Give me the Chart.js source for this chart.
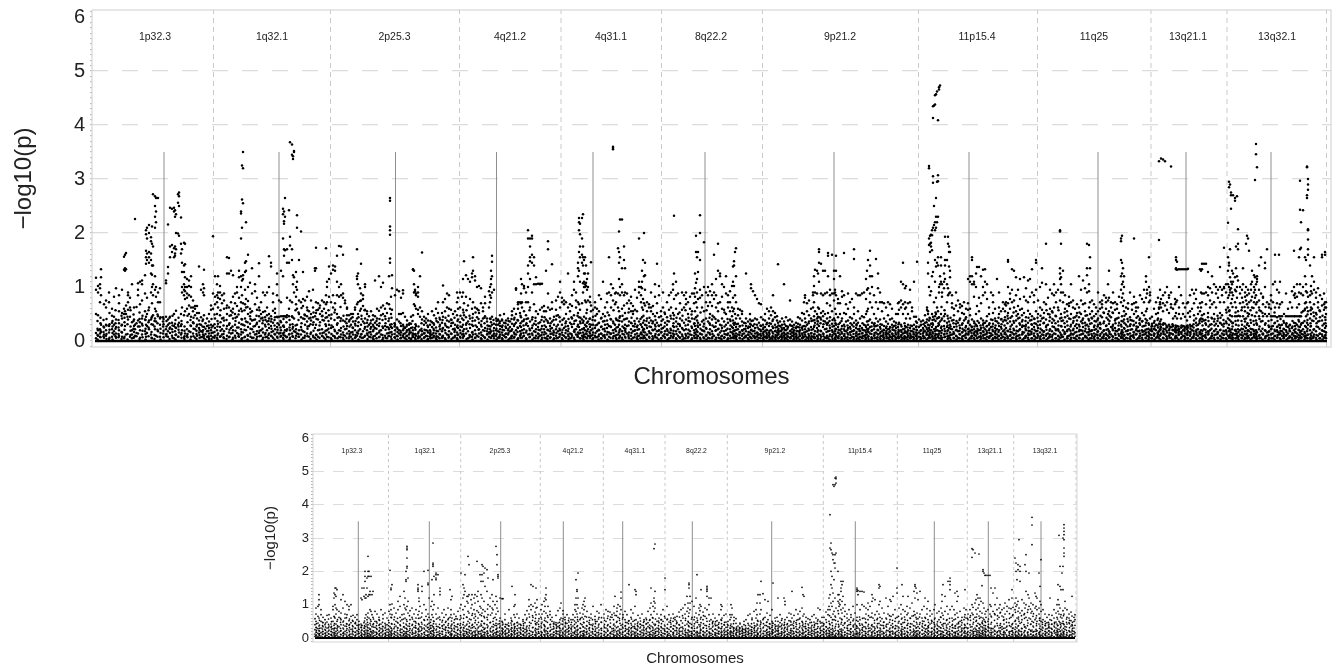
<!DOCTYPE html>
<html>
<head>
<meta charset="utf-8">
<title>Manhattan plots</title>
<script src="https://cdn.jsdelivr.net/npm/chart.js@4"></script>
<style>
  html, body { margin: 0; background: #fff; }
  canvas { position: absolute; left: 0; }
  #topChart { top: 0; }
  #bottomChart { top: 425px; }
</style>
</head>
<body>
<canvas id="topChart"></canvas>
<canvas id="bottomChart"></canvas>
<script>
const lociNames = ['1p32.3', '1q32.1', '2p25.3', '4q21.2', '4q31.1', '8q22.2', '9p21.2', '11p15.4', '11q25', '13q21.1', '13q32.1'];
const yTickLevels = [0, 1, 2, 3, 4, 5, 6];
const dashedLevels = [2, 3, 4, 5];
const geneTop = 3.5;

// positions along the concatenated regions, upper panel
const topBounds = [213.5, 330.5, 459.5, 561, 661.5, 762.5, 918.5, 1037.5, 1151, 1227, 1326.5];
const topGenes = [164, 279, 395.5, 496.5, 593, 705, 834, 969, 1098, 1186, 1271];
const topLabelAt = [155, 272, 394.5, 510, 611, 711, 840, 977, 1094, 1188, 1277];
const topBaseline = [95, 1327];

// each row: position, then the -log10(p) values seen at that position
const top1p = [
[96,.05,.15,.5,.95,1.17],[98,.1,.2,.48,.9,1.02],[100,.08,.14,.22,.72,.98,1.05],[101,.17,.3,.85,1.18,1.33],[104,.06,.12,.25,.68],[106,.1,.2,.3,.62,.75],[109,.04,.16,.28,.72,.9],[112,.08,.22,.34,.47,.6],[114,.12,.18,.3,.45,.82],[116,.06,.14,.26,.4,.98],[119,.1,.2,.33,.55,.7,.85],[122,.08,.16,.3,.42,.52,.95],[124,.05,.5,.6,1.32,1.56],[125,.28,.55,1.3,1.35,1.6],[126,.12,.5,.66,1.33,1.63],[128,.4,.58,.72,.85,.9],[130,.08,.45,.62,.8],[132,.05,.12,.2,.35,1.05],[134,.07,.17,.28,.4,.62],[135,.1,.22,.3,2.26],[138,.14,.27,.38,.85,.95,1.07],[140,.06,.2,.35,.68,1.1],[142,.12,.32,.42,.75,1.05,1.12],[145,.18,.4,.55,.88,1.22],
[146,.08,.3,.45,1.43,1.55,1.67,1.98,2.05],[147,.15,.28,.5,.8,1.5,1.62,1.9,2.1],[149,.22,.38,.62,1.45,1.55,1.65,2.0,2.15],[151,.12,.4,.9,1.25,1.5,1.62,1.85,1.92],[152,.05,.45,.7,1.0,1.23,1.4,1.8,2.12],[153,.3,.48,.85,1.05,1.4,1.75,2.72],[155,.22,.42,.6,.95,1.2,2.1,2.3,2.5,2.68],[156,.1,.36,.55,.82,1.0,2.2,2.4,2.65],[158,.18,.46,.72,.9,2.65],[160,.08,.3,.42,.72,.98],[163,.14,.27,.36,.44],[166,.12,.22,.45,1.12,1.07],[168,.08,.18,.3,.4,1.25,1.37,2.16],[170,.15,.25,.45,1.55,1.75,2.47],[172,.1,.22,.34,1.65,1.78,2.45],[174,.05,.28,.5,1.55,1.72,2.4,2.47],[175,.18,.32,1.58,1.62,1.75,2.3,2.42],[176,.12,.24,.56,1.7,2.0,2.35],[178,.08,.3,1.99,2.56,2.72],[179,.16,.34,1.95,2.5,2.68,2.75],[181,.12,.28,.5,1.8,1.62,2.29],[182,.2,.62,.9,1.0,1.28,1.45,1.7],[184,.06,.48,.85,.95,1.05,1.28,1.4,1.82],[185,.14,.55,.78,.92,1.0,1.18,1.42,1.8],[187,.1,.22,.6,.8,.88,1.0,1.15],[189,.18,.5,.66,.85,1.02,1.12],[191,.08,.28,.45,.62,.82,1.0,1.2],[193,.14,.35,.55,.62,.75],[195,.06,.22,.48,.6,.65],[197,.1,.3,.42,.52,.65],[199,.16,.24,.38,.52,1.38],[201,.07,.18,.3,.44,.95],[203,.12,.2,.4,.9,1.05],[204,.05,.1,.26,.48,.85,.98,1.32],[207,.08,.18,.28,.42],[209,.04,.14,.24,.36,.5],[211,.1,.2,.3,.58,.66],[213,.07,.16,.28,.6,.88,1.94]
];
const top1q = [
[215,.1,.24,.42,.68,.82,1.2],[217,.06,.2,.5,.72,.85,1.05],[218,.14,.32,.62,.8,.9,1.2],[220,.08,.26,.48,.78,.9,1.02],[222,.12,.22,.42,.7,.85],[224,.05,.18,.38,.6,.75,.88],[227,.1,.28,.5,.66,1.25,1.55],[229,.07,.16,.3,.62,1.25,1.54],[231,.14,.24,.48,.56,.72,1.3],[233,.06,.2,.42,.6,.82,1.22],[235,.1,.3,.5,.7,.88],[237,.15,.25,.45,.65,.9,1.0],[239,.08,.34,.56,.8,1.18,1.3],[241,.12,.22,.6,.72,1.0,1.2,1.9,2.36,2.4],[242,.05,.4,.55,.85,1.12,2.1,2.62,3.25],[243,.16,.3,.7,1.15,1.22,2.55,3.2,3.5],[245,.08,.42,.68,.95,1.28,1.45],[246,.2,.36,.62,.78,1.3,1.48,2.2],[248,.1,.26,.5,.74,1.0,1.6],[250,.14,.32,.46,.6,1.08],[252,.06,.22,.38,.55,.88,1.35],[255,.12,.28,.4,.68,.92,1.05],[257,.08,.18,.34,.58,.8],[259,.15,.26,.46,.62,1.2,1.44],[261,.1,.2,.42,.5,.72],[263,.06,.16,.38,.54,.9],[265,.12,.3,.44,.55,.85],[267,.08,.2,.36,.48,.62,.9],[269,.14,.24,.42,.5,1.0,1.57],[271,.1,.28,.36,.46,1.45,1.38],[273,.06,.18,.34,.56,.72,.88],[275,.12,.22,.44,.52,.6],[277,.08,.16,.26,.45,.85,1.05,1.25],[279,.14,.3,.45,.75],[281,.1,.2,.35,.46,.72,1.3],[283,.06,.14,.28,.46,1.2,1.9,2.35,2.45],[284,.16,.26,.46,1.58,1.7,2.17,2.22,2.4],[285,.1,.2,.46,1.68,2.3,2.65],[287,.08,.22,.48,.8,1.7,1.45],[289,.12,.46,.6,1.45,2.42],[290,.06,.2,.3,.75,1.77,1.93,3.68],[292,.14,.46,.72,1.5,1.7,3.64,3.45],[293,.08,.26,1.05,1.22,3.42,3.37],[294,.18,.42,.9,1.18,3.5,3.52],[296,.1,.22,.68,.82,1.0,1.28],[297,.14,.3,.6,.95,1.1,2.1,2.33],[299,.08,.2,.5,.75,1.5],[301,.12,.26,.44,.72,2.03],[303,.06,.18,.42,.65,.78,1.28],[305,.1,.3,.48,.75],[307,.14,.36,.46,.62,.82],[309,.08,.28,.42,.55,.92],[311,.16,.38,.5,.75],[313,.1,.3,.44,.62,.95],[315,.06,.24,.46,1.35,1.3],[316,.12,.3,.52,.72,1.35,1.73],[318,.08,.2,.4,.58,.7],[320,.14,.35,.5,.66],[322,.1,.22,.46,.55,.75],[324,.06,.16,.38,.6,.72],[326,.12,.28,.52,.68,1.72,.85],[327,.08,.2,.44,.72,1.0,1.1],[329,.16,.3,.48,.82,1.15,1.38],[331,.05,.24,.42,.72,1.25]
];
const top2p = [
[333,.1,.26,.62,.85,1.32,1.4],[335,.06,.18,.58,.7,1.3,1.38],[337,.14,.3,.5,.85,1.1,1.58],[339,.08,.2,.44,.82,1.0,1.76],[341,.12,.24,.42,.85,1.75,1.05],[343,.06,.16,.38,.8,.88,1.6],[345,.1,.22,.36,.7,.75],[347,.14,.28,.48,.62,.6],[349,.05,.18,.36,.48],[351,.08,.16,.3,.42,.5],[353,.12,.24,.36,.5],[355,.06,.2,.32,.58,.62],[357,.1,.16,.42,.68,1.15,1.2,1.7],[358,.14,.28,.5,.72,1.25,1.05],[360,.08,.22,.56,.74,.98],[361,.12,.3,.6,.75,.88,1.43],[363,.06,.18,.36,.65,.78,.85],[365,.1,.26,.42,.58,1.0,1.05],[367,.14,.2,.34,.5,.55],[369,.08,.16,.3,.46],[371,.12,.26,.38,.55],[373,.05,.18,.3,.4,.48],[375,.1,.24,.34,.46,1.12],[377,.14,.3,.42,.6],[379,.07,.16,.28,.56,1.2],[381,.12,.2,.48,.62,1.0],[383,.06,.24,.5,.66,1.08],[385,.1,.28,.46,.6],[387,.05,.14,.26,.52,.7],[389,.1,.22,.42,.68,1.2],[390,.16,.3,.6,1.45,1.53,1.97,2.05,2.12,2.6,2.65],[391,.08,.26,.5,.82],[392,.12,.24,.58,.98,1.22],[395,.06,.2,.3,.85],[397,.1,.25,.4,.95],[399,.14,.2,.36,.5,.92],[401,.06,.16,.28,.5,.8],[403,.1,.2,.3,.52,.94,.88],[405,.05,.14,.24,.45],[407,.1,.2,.3,.38],[409,.06,.12,.22,.3],[411,.04,.16,.24,.32,.45],[413,.08,.14,.2,.48,1.33,1.32],[414,.12,.68,.9,1.05,1.3],[415,.06,.24,.65,.95,.92],[416,.1,.28,.6,.85,.88],[418,.05,.14,.5,.58,.82,.9,1.0],[420,.08,.2,.45,.62,1.2],[422,.12,.18,.4,.55,1.64],[424,.06,.14,.3,.45],[426,.1,.2,.34,.42],[428,.04,.16,.26,.38,.5],[430,.08,.14,.2,.3],[432,.06,.12,.26,.35,.55],[434,.1,.2,.3,.48],[436,.05,.14,.25,.42,.6],[438,.08,.18,.35,.52,.72],[440,.12,.22,.3,.4],[442,.06,.18,.34,.52],[443,.1,.24,.45,.72,1.03],[445,.05,.2,.32,.55,.78],[447,.12,.26,.38,.62,.88],[449,.08,.18,.36,.6,.85],[451,.14,.28,.4,.58],[453,.06,.22,.34,.5],[455,.1,.2,.3,.55],[457,.05,.16,.26,.48,.72,.9],[458,.12,.24,.4,.6,.8]
];
const top4q21 = [
[460,.08,.2,.35,.62,.9],[462,.12,.26,.42,.82],[463,.06,.18,.3,.58,.9,1.15],[464,.1,.22,.48,.7,1.48],[466,.14,.3,.44,.82,1.22],[468,.05,.18,.36,.66,1.15],[470,.1,.24,.42,.78,1.1],[472,.08,.16,.3,.6,1.18,1.25],[473,.12,.28,.5,.72,1.3,1.55],[475,.06,.2,.38,.62,1.2,1.12],[477,.1,.26,.44,.6,1.0],[479,.14,.22,.34,.52,1.02],[481,.05,.16,.3,.7,.98],[483,.1,.2,.42,.55,.62],[485,.06,.24,.46,.82,.7],[487,.12,.18,.36,.42],[489,.08,.16,.28,.62,.92],[490,.14,.22,.42,.72,.85,1.0],[491,.06,.18,.35,.8,1.05,1.15,1.3],[492,.1,.3,.45,.9,1.2,1.47,1.58],[494,.05,.14,.24,.32,.95],[496,.1,.2,.3,.42],[498,.06,.18,.3,.38,.4],[500,.12,.22,.28,.36,.48],[502,.05,.16,.26,.38,.4],[504,.1,.2,.34,.5],[506,.07,.14,.24,.38],[508,.12,.2,.3,.42],[510,.05,.18,.26,.36],[512,.1,.22,.32,.48,.55],[514,.06,.16,.28,.4,.6],[516,.12,.2,.34,.5,.95,.98],[518,.05,.24,.38,.6,.68,.72],[520,.1,.18,.28,.52,.72],[521,.14,.26,.44,.7,.88,1.15],[522,.06,.2,.36,.62,.72,1.05],[524,.1,.22,.4,.55,.98,1.02],[526,.05,.16,.3,.48,.72,.9],[528,.12,.28,.42,.72,1.0,1.25,1.4,1.9,2.05],[530,.08,.2,.36,.62,1.15,1.48,1.55,1.75,1.9],[532,.14,.24,.4,.9,1.45,1.6,1.9,1.95],[534,.06,.18,.32,.68,1.05,1.4,1.55],[536,.1,.22,.3,.55,1.05,1.18],[538,.05,.14,.26,.5,1.06],[540,.1,.2,.35,.58,1.06,1.05],[542,.06,.16,.28,.45,.62,1.06],[544,.12,.22,.36,.55,.65],[546,.05,.14,.26,.4,.55,1.3],[548,.1,.2,.34,.62,.88,1.85,1.7],[550,.06,.18,.28,.42,.58],[552,.14,.24,.36,.6,.72,1.42],[554,.05,.16,.3,.45],[556,.1,.22,.4,.58,.75],[558,.06,.18,.3,.48,.82],[560,.12,.2,.36,.62,1.1,.9]
];
const top4q31 = [
[562,.05,.16,.3,.72,.8],[564,.1,.24,.42,.68,.75],[566,.06,.2,.36,.5,.72],[568,.12,.18,.28,.62,1.25],[570,.05,.14,.34,.55,.68],[572,.1,.26,.42,.65,.85],[574,.06,.18,.32,.48,.95,1.1],[576,.12,.22,.38,.62,.9,.75],[578,.08,.16,.3,.52,.72,1.2,1.35,1.45],[579,.14,.26,.44,.68,1.3,1.65,2.05,2.2,2.28],[580,.05,.2,.36,.58,1.1,1.55,1.75,1.98,2.17],[582,.1,.22,.4,.7,1.45,1.6,1.9,2.28],[583,.06,.16,.34,.9,1.07,1.4,1.55,1.75,2.35],[584,.12,.24,.45,1.0,1.1,1.25,1.5],[585,.08,.2,.3,.75,1.0,1.05,1.25,1.55],[586,.14,.28,.42,.72,1.02,1.08,1.4],[587,.05,.18,.34,.58,.95,1.15],[588,.1,.22,.36,.75,1.0,1.25],[590,.06,.14,.26,.42,.82,.72],[591,.1,.2,.3,.55,.66,1.46],[593,.05,.16,.3,.45,.58],[595,.1,.24,.38,.62,.72],[597,.07,.18,.3,.5,.6],[599,.12,.2,.34,.55,.85],[601,.05,.14,.26,.42,.78],[603,.1,.22,.36,.5,1.1],[605,.06,.18,.3,.46,.62],[607,.12,.24,.38,.72,.88],[609,.08,.16,.28,.48,.9,1.55],[611,.14,.26,.4,.62,.85,1.05],[613,.05,.2,.36,.75,.98,3.55,3.58,3.6],[615,.1,.22,.3,.68,.88],[616,.06,.18,.42,.72,.9],[618,.12,.26,.38,.62,.88,1.72],[619,.05,.16,.3,.55,1.15,1.45,1.65,2.03],[620,.1,.22,.46,.85,1.0,1.55,2.25],[622,.06,.18,.36,.6,.9,1.05,1.35,2.25],[624,.12,.24,.4,.66,.85,1.5,1.75],[625,.08,.2,.3,.52,.9,1.35],[627,.14,.28,.42,.7,.88],[629,.05,.16,.36,.6,.75],[631,.1,.22,.34,.55,.82,.7],[633,.06,.18,.28,.5,.65,.55],[635,.12,.2,.32,.58,.95],[637,.05,.14,.26,.42,.8,.55],[639,.1,.22,.36,.9,1.0,1.1,1.9],[641,.06,.16,.3,.72,.85,1.0],[642,.12,.26,.44,.62,.98,1.3,1.1],[643,.05,.2,.34,.58,.78,1.5],[644,.1,.22,.38,.7,1.2,2.0],[645,.06,.16,.3,.66,.95,1.45,1.22],[647,.12,.24,.42,.55,.72],[649,.08,.18,.34,.62,.68],[651,.14,.26,.38,.55,.62,.9],[653,.05,.2,.36,.5,.65],[655,.1,.22,.3,.46,1.05,.82],[657,.06,.18,.34,.52,.7,1.43],[659,.12,.2,.28,.44,.85,1.02],[661,.05,.16,.3,.46,.55]
];
const top8q = [
[663,.1,.24,.4,.62,.9],[665,.06,.18,.34,.5],[667,.12,.22,.3,.44,.72],[669,.05,.16,.36,.58,.85],[671,.1,.2,.42,.62,.9],[673,.06,.14,.28,.52,.95,1.05],[674,.12,.26,.48,.78,1.25,2.32],[676,.05,.18,.36,.6,.85,1.1],[678,.1,.22,.32,.5,.88],[680,.06,.16,.28,.42,.7],[682,.12,.24,.38,.58,.9],[684,.05,.2,.34,.62,.85],[686,.1,.22,.4,.68,.78,.9],[688,.06,.14,.3,.5,.72],[690,.12,.18,.36,.6,.82],[692,.05,.24,.42,.55,.88],[694,.1,.2,.32,.7,.88],[695,.06,.16,.28,.55,.82,.98,1.25],[696,.12,.22,.44,.72,1.08,1.65,1.95],[697,.05,.18,.38,.62,.9,1.15,1.55],[698,.1,.26,.34,.78,1.28,1.65],[700,.06,.14,.3,.8,.95,1.5,2.0,2.33],[702,.12,.2,.36,.62,.85],[704,.05,.18,.32,.55,1.0,1.83],[706,.1,.24,.42,.72,.9],[708,.06,.16,.36,.65,.85,1.0],[710,.12,.22,.3,.5,.72,.92],[712,.05,.18,.4,.65,.85,1.05],[714,.1,.26,.44,.78,.9,1.6],[716,.06,.2,.34,.62,.85,1.15],[718,.12,.22,.38,.55,.7,1.3,1.8],[720,.05,.16,.3,.72,1.25,1.2],[722,.1,.24,.42,.6,.82,1.05],[724,.06,.18,.36,.58,1.0],[726,.12,.2,.3,.5,.88,1.2],[728,.05,.14,.34,.62,.85,.72],[730,.1,.22,.4,.55,.72,.92],[732,.06,.16,.26,.46,.62,1.02],[733,.12,.24,.38,.55,.8,1.1,1.38],[734,.05,.18,.3,.6,1.02,1.4,1.48],[735,.1,.2,.34,.5,.85,1.65],[736,.06,.14,.26,.42,.72,1.2,1.72],[738,.12,.22,.32,.48,.6],[740,.05,.16,.28,.42,.58],[742,.1,.2,.36,.5,.55],[744,.06,.14,.22,.34],[746,.1,.18,.28,.42,1.25],[748,.05,.12,.24,.36],[750,.08,.16,.26,.32,.4,.5],[751,.06,.2,.3,1.05,.98],[753,.1,.18,.28,.38,.92],[755,.05,.14,.24,.42,.85],[757,.08,.16,.3,.4,.78],[759,.06,.12,.22,.34,.7],[761,.1,.18,.28,.44,.68]
];
const top9p = [
[763,.05,.14,.22,.3,.4],[765,.08,.18,.26,.38,.5],[767,.06,.12,.2,.34,.6],[769,.1,.16,.28,.42,.55],[771,.05,.2,.32,.48,.62],[773,.08,.14,.24,.4,.55,.85],[775,.06,.18,.3,.44,.52],[777,.1,.16,.26,.38,.46],[778,.05,.12,.2,.34,1.42],[780,.08,.18,.28,.36],[782,.06,.14,.22,.3,.42],[784,.1,.16,.24,.36,1.05],[786,.05,.12,.2,.28,.44],[788,.08,.14,.26,.38],[790,.06,.18,.3,.4,.75],[792,.1,.16,.22,.28,.36],[794,.05,.12,.2,.3],[796,.08,.14,.24,.34],[798,.06,.18,.26,.32,.44],[800,.1,.2,.3,.42],[802,.05,.14,.24,.38,.52],[804,.08,.16,.28,.5,.72],[805,.12,.22,.42,.8,.85],[807,.06,.18,.3,.55,.7],[809,.1,.2,.36,.48,.75],[811,.05,.14,.26,.42,.6],[813,.08,.22,.38,.62,.9,.85],[814,.12,.26,.46,.72,1.02,1.2],[815,.06,.18,.34,.55,.9,1.32],[817,.1,.24,.42,.5,.88,1.3],[818,.05,.2,.36,.45,.62,1.25],[819,.12,.28,.44,.6,1.1,1.45,1.65,1.7],[821,.08,.18,.4,.52,.88,1.43],[823,.14,.26,.46,.55,.85,1.3],[825,.06,.22,.36,.5,.88,1.3],[827,.1,.3,.42,.7,.9],[828,.05,.18,.34,.52,1.2,1.58,1.63],[830,.12,.24,.44,.66,.95,.85],[832,.08,.2,.32,.55,.88,1.6],[834,.14,.28,.42,.75,.88,1.15,1.3],[835,.05,.18,.38,.6,.9,.95],[836,.1,.22,.3,.5,.85,1.3,1.58],[838,.06,.16,.26,.44,.78,.7],[840,.12,.2,.34,.5,.7,1.2],[842,.05,.14,.28,.42,.82,.92],[844,.1,.22,.3,.52,.85,1.63],[846,.06,.18,.36,.5,.68],[848,.12,.24,.38,.6,.88],[850,.05,.16,.26,.44,.72],[852,.08,.18,.3,.42,.78],[854,.06,.2,.34,.5,.62,1.7,1.52],[856,.1,.14,.24,.38,.88],[858,.05,.12,.22,.34,.55,.85],[860,.08,.18,.28,.42,.85],[862,.06,.14,.24,.46,.88],[864,.1,.2,.3,.44,.9],[866,.05,.16,.26,.5,.78,1.15],[867,.12,.22,.36,.55,.95,1.3],[868,.08,.18,.3,.6,.98,1.5],[870,.14,.26,.4,.72,.88,1.2,1.4,1.67],[872,.05,.2,.34,.62,1.0,1.2],[874,.1,.22,.3,.5,.85],[876,.06,.16,.28,.42,.72,1.52],[878,.12,.2,.36,.6,1.25,.98],[880,.05,.14,.26,.4,.72,.9],[882,.1,.18,.3,.55,.72],[884,.06,.2,.28,.42,.7],[886,.12,.16,.24,.36,.62],[888,.05,.14,.22,.32,.48,.72],[890,.08,.18,.26,.4,.68],[892,.06,.14,.3,.42,.6],[894,.1,.2,.28,.36],[896,.05,.12,.24,.34,.5],[898,.08,.16,.26,.5,.7],[899,.06,.18,.34,.58,.72],[901,.1,.2,.3,.62,.75,1.1],[903,.05,.14,.22,.5,.68,1.05,1.45],[905,.08,.18,.28,.6,.72,.98],[906,.06,.16,.26,.42,.62,1.02],[908,.1,.2,.3,.5,.7],[910,.05,.14,.24,.42,.72,.95],[912,.08,.18,.28,.55,.62],[914,.06,.12,.22,.3,.45,1.1],[916,.1,.16,.26,.36,.45],[917,.05,.14,.2,.34,1.47]
];
const top11p = [
[919,.08,.16,.26,.4],[921,.05,.2,.3,.36],[923,.1,.14,.24,.38],[925,.06,.18,.28,.34,.48],[927,.12,.22,.4,.58,.62],[928,.05,.18,.3,.5,.55,1.45,1.25],[929,.1,.24,.38,1.0,1.78,1.9,3.2,3.24],[930,.06,.16,.42,.85,1.65,1.95,1.8],[931,.12,.2,.32,.92,1.75,1.97,1.82],[932,.08,.26,.5,1.2,1.68,1.96,2.05],[933,.14,.3,.45,2.93,3.05,2.1,4.13,4.35,1.28],[934,.05,.22,.4,.72,2.5,2.15,4.36],[935,.1,.18,.46,1.1,1.5,2.05,2.2,4.38,4.55],[936,.06,.26,.5,.8,1.38,2.1,2.3,2.65,4.57],[937,.12,.2,.42,.62,1.45,2.2,4.62,2.95],[938,.08,.28,.55,1.4,1.55,2.3,3.07,2.96,4.09],[939,.14,.3,.44,.9,1.0,4.66,4.7],[940,.05,.18,.36,1.05,1.2,4.73],[941,.1,.24,.5,1.1,1.4,1.55],[942,.06,.2,.42,.9,.82,1.05],[944,.12,.28,.46,.98,1.25,1.1],[945,.08,.18,.5,1.15,1.4,1.5,1.93],[947,.14,.26,.34,.72,1.05,1.5],[948,.05,.2,.42,.85,.98,1.8,1.93],[949,.1,.24,.36,.88,1.38,1.65,1.75],[950,.06,.16,.3,.9,1.18,1.3,1.65],[952,.12,.22,.38,.7,.62,.85],[954,.05,.14,.26,.48,.6],[956,.1,.2,.32,.66,.9],[958,.06,.18,.34,.55,.75],[960,.12,.24,.42,.62,.68],[962,.05,.16,.3,.52,.65],[964,.1,.2,.38,.5,.72],[966,.06,.14,.28,.44,.6],[968,.12,.22,.34,.58,.7,1.15],[970,.05,.18,.3,.48,.6,1.1,1.2],[972,.1,.2,.26,.4,1.05,1.2,1.5,1.55],[974,.06,.14,.22,.36,.82,1.1,1.05],[976,.1,.18,.3,.5,1.0,1.25],[977,.05,.16,.28,.65,1.37],[979,.08,.2,.34,.55,.8,1.37],[981,.06,.14,.24,.42,.7,1.2],[983,.1,.18,.3,.38,.85,1.32,1.0],[985,.05,.12,.22,.34,.9,1.1,1.33],[987,.08,.16,.28,.46,.78,1.05],[989,.06,.2,.3,.5,.62],[991,.1,.14,.26,.4,.9],[993,.05,.18,.32,.52,.72,.85],[995,.08,.16,.24,.42,.6],[997,.06,.12,.22,.36,1.15],[999,.1,.2,.28,.5,.62,.9],[1001,.05,.14,.26,.4,.55],[1003,.08,.18,.36,.6,.72],[1005,.06,.16,.44,.55,.68],[1006,.12,.24,.38,.66,.72],[1008,.05,.18,.42,.52,.7,1.0,1.5,1.47],[1010,.1,.22,.36,.6,.78,.88],[1012,.06,.16,.3,.46,.72,.95,1.33],[1014,.12,.2,.34,.62,.75,1.3],[1016,.05,.14,.38,.55,.85,1.18],[1018,.1,.18,.42,.5,.65,.95],[1020,.06,.22,.3,.58,.78,1.15],[1022,.12,.26,.36,.48,.6],[1024,.05,.16,.28,.52,.82,1.18],[1026,.1,.2,.3,.44,.75,.98],[1028,.06,.14,.34,.56,.72,1.12],[1030,.12,.18,.38,.5,.82,1.15],[1032,.05,.22,.3,.46,.9,1.33],[1034,.1,.14,.26,.42,.72,.85],[1036,.06,.18,.32,.55,.95,1.45,1.5]
];
const top11q = [
[1038,.1,.24,.36,.5,.75],[1040,.05,.16,.3,.62,1.0],[1042,.12,.2,.42,.58,1.08,1.35],[1044,.06,.18,.34,.52,.72],[1046,.1,.26,.4,.68,1.05,1.8],[1048,.05,.14,.3,.5,.8],[1050,.12,.22,.44,.6,.95],[1052,.08,.18,.34,.55,.88],[1054,.14,.26,.38,.62,1.05,.85],[1056,.05,.2,.46,.72,.9],[1058,.1,.22,.36,.62,.95],[1060,.06,.16,.42,.75,1.15,1.25,1.35,2.03,2.05],[1061,.12,.28,.5,.9,1.05,1.18,1.8],[1063,.08,.2,.38,.72,.9,1.3],[1065,.14,.26,.44,.6,.85],[1067,.05,.18,.36,.55,.68],[1069,.1,.22,.42,.7,.82,.65],[1071,.06,.14,.3,.5,.72,1.05],[1073,.12,.2,.34,.62,.75],[1075,.05,.16,.28,.44,.6],[1077,.1,.24,.38,.52,.68],[1079,.06,.18,.3,.44,.62,1.2],[1081,.12,.2,.36,.5,.75,.95],[1083,.05,.14,.26,.42,.68,1.12],[1085,.1,.18,.34,.55,.7,.98],[1087,.06,.16,.3,.48,.9,1.22,1.35,1.8],[1089,.12,.22,.38,.62,.92,1.05,1.78],[1090,.05,.18,.32,.5,.72,1.35,1.55],[1092,.1,.2,.42,.55,.75],[1094,.06,.14,.26,.46,.68],[1096,.12,.22,.36,.5,.62],[1098,.05,.18,.3,.42,.55,.9],[1100,.1,.24,.34,.6,.72],[1102,.06,.16,.44,.68,.62,.75],[1104,.12,.2,.36,.52,.85],[1106,.05,.14,.28,.6,.72,.8],[1108,.1,.22,.4,.5,.75,1.05],[1109,.06,.18,.32,.55,.8,1.3],[1111,.12,.26,.44,.62,.72],[1113,.08,.2,.3,.52,.7,.9],[1115,.14,.24,.38,.58,.72],[1117,.05,.18,.42,.6,.68],[1119,.1,.22,.34,.52,.82],[1121,.06,.14,.3,.72,.95,1.2,1.5,1.85,1.9],[1122,.12,.2,.46,.8,1.05,1.25,1.45,1.95],[1123,.05,.16,.36,.65,.88,1.1,1.35],[1124,.1,.24,.4,.55,.75,1.0,1.2],[1126,.06,.18,.3,.5,.62],[1128,.12,.2,.36,.6,.7],[1130,.05,.14,.28,.44,.9],[1132,.1,.22,.38,.58,.68],[1134,.06,.16,.3,.5,.82,.7,1.9],[1136,.12,.2,.34,.55,.72,.62],[1138,.05,.18,.26,.46,.62],[1140,.1,.14,.3,.42,.85],[1142,.06,.2,.36,.52,.78],[1144,.12,.18,.28,.48,.72,.95],[1146,.05,.16,.34,.55,.8,1.2,1.1],[1147,.1,.22,.38,.6,.95,.88],[1149,.06,.14,.3,.72,1.0,1.55],[1150,.12,.2,.42,.85,.75,.9]
];
const top13q21 = [
[1152,.05,.18,.28,.32,.45],[1154,.1,.14,.22,.34,.6],[1156,.06,.2,.3,.5,.72],[1158,.12,.16,.25,.42,.52,.8],[1159,.05,.18,.32,.6,.62,1.87,3.33],[1160,.1,.22,.36,.68,.72,.95],[1161,.14,.25,.4,.62,.78,3.38],[1163,.06,.18,.3,.55,.7,.85,3.36],[1165,.12,.22,.32,.66,.9,3.33],[1167,.05,.16,.26,.58,.72,1.0],[1169,.1,.2,.3,.52,.85,.8],[1171,.06,.14,.26,.62,.68,.9,3.23],[1173,.12,.2,.28,.42,.6],[1175,.05,.18,.22,.46,.68,.78],[1176,.1,.16,.25,.52,.72,1.33,1.35,1.5,1.55],[1177,.06,.2,.28,.42,.75,1.32,1.47],[1179,.12,.18,.22,.5,.62,1.33,1.0],[1181,.05,.16,.25,.42,.85,1.33],[1183,.1,.2,.28,.5,.7,1.33],[1185,.06,.14,.25,.45,.62,1.33],[1187,.12,.22,.28,.38,.7,1.33],[1188,.05,.18,.25,.52,.72,1.34],[1190,.1,.16,.3,.45,.55,.85],[1192,.06,.2,.28,.6,.95],[1194,.12,.14,.38,.48,.88,.7],[1196,.05,.18,.34,.42,.95,.78],[1198,.1,.22,.3,.5,.62],[1200,.06,.16,.4,.55,.7,1.33],[1201,.12,.2,.42,.62,.9,1.3],[1202,.05,.14,.36,.48,.72,.88,1.33,1.43],[1204,.1,.22,.38,.5,.88,1.43],[1206,.06,.16,.3,.68,.9,1.43],[1208,.12,.18,.44,.52,.85,1.0,1.28],[1210,.05,.2,.3,.62,.75,.98],[1212,.1,.14,.42,.68,.9,1.2],[1214,.06,.18,.36,.5,.72,1.05],[1216,.12,.22,.32,.62,.88,1.0],[1218,.05,.16,.28,.42,.8,.95],[1220,.1,.2,.34,.52,.72,1.0,1.37],[1222,.06,.14,.3,.48,.95,.85],[1224,.12,.18,.32,.72,.98,1.0,1.73],[1226,.05,.2,.36,.58,.9,1.05]
];
const top13q32 = [
[1228,.1,.24,.42,.62,.8,1.05,1.3,1.55,2.19],[1229,.06,.18,.3,.55,.85,1.0,1.45,1.4,2.85,2.95],[1230,.12,.2,.48,.9,.95,1.18,1.7,2.9],[1231,.05,.16,.36,.7,.98,1.1,2.45,2.75,2.7],[1232,.1,.22,.46,.78,.9,1.3,1.05],[1233,.06,.14,.34,.85,1.1,1.25,2.7],[1235,.12,.2,.46,.72,.95,1.18,2.6,2.65],[1236,.05,.18,.3,.62,.92,1.35,1.75],[1237,.1,.14,.46,.8,1.0,1.2,2.68],[1238,.06,.22,.38,.55,1.12,1.7,1.8,2.07],[1240,.12,.2,.46,.7,.88,1.0],[1242,.05,.16,.3,.62,.8,.95],[1243,.1,.22,.46,.72,1.05,1.35],[1245,.06,.18,.36,.55,.9,.82],[1246,.12,.24,.42,.75,1.0,1.8],[1247,.05,.14,.3,.68,.85,1.95],[1248,.1,.2,.46,.62,.95,1.9],[1249,.06,.18,.28,.5,.72,.88,1.67],[1251,.12,.16,.34,.75,.95,1.05],[1252,.05,.22,.48,.62,.82,1.1,1.3],[1254,.1,.18,.3,.72,.9,1.0,1.22],[1255,.06,.14,.46,.8,.95,1.18,2.98],[1256,.12,.2,.38,.68,.85,1.05,3.46,3.65],[1257,.05,.16,.3,.72,1.1,1.15,1.2,3.22],[1259,.1,.22,.46,.62,.75,.95,1.4],[1261,.06,.18,.36,.55,.88,1.55],[1263,.12,.14,.46,.68,.8,.82],[1265,.05,.2,.3,.5,1.0,1.35,1.45],[1267,.1,.16,.46,.72,1.7],[1269,.06,.18,.26,.5,.62,.68],[1271,.12,.22,.46,.6,.75,.85],[1273,.05,.14,.28,.46,.72,1.05],[1275,.1,.18,.34,.46,.62,1.1,1.6],[1277,.06,.2,.26,.44,.7,.95],[1279,.12,.16,.3,.46,.62,1.6,.9],[1280,.05,.14,.24,.46,.68,1.1],[1282,.1,.18,.3,.46,.72],[1284,.06,.12,.22,.34,.5],[1286,.1,.2,.3,.46,.88],[1288,.05,.14,.26,.46,.6],[1290,.08,.18,.3,.46,.72],[1292,.06,.12,.24,.46,.62,.92],[1294,.1,.2,.34,.46,.85,1.0,1.67],[1295,.05,.16,.28,.46,.8,.88],[1297,.08,.14,.3,.46,.62,1.05,.82],[1299,.06,.2,.36,.46,.68,.9,1.55],[1300,.1,.16,.26,.46,1.05,1.7,2.43,2.97],[1301,.05,.18,.3,.46,.88,1.73,2.2],[1303,.12,.22,.34,.55,.85,2.42,1.0],[1305,.06,.14,.28,.6,.7,1.55,1.2],[1306,.1,.26,.46,.72,.92,1.5,1.05],[1307,.05,.18,.34,.62,.9,2.65,2.7,3.22,3.23],[1308,.12,.3,.55,.82,1.7,1.6,1.88,2.05,2.07,2.8,2.9,3.0],[1310,.06,.2,.42,.72,.85,1.4],[1311,.1,.28,.5,.62,.92,1.02],[1312,.05,.16,.38,.6,.88,1.2],[1314,.12,.22,.46,.68,.95,1.1,1.55],[1316,.06,.18,.42,.52,.8,.9],[1318,.1,.26,.36,.62,.72,.98],[1320,.05,.14,.44,.55,.85],[1322,.12,.2,.38,.66,.78,1.55,1.6],[1324,.06,.18,.32,.58,.68,.88],[1325,.1,.24,.44,.72,.62,1.6,1.65],[1326,.05,.16,.28,.5,.62,.72]
];
// second pass over the dense low band, upper panel
const topLowA = [
[97.5,.03,.11,.23,.37],[100.5,.07,.19,.33,.43],[103.5,.09,.17,.27,.39],[106.5,.04,.13,.29,.41],[109.5,.06,.21,.31,.52],[112.5,.03,.15,.27,.37],[115.5,.09,.23,.33,.57],[118.5,.07,.13,.25,.39],[121.5,.04,.17,.29,.47],[124.5,.08,.21,.35,.43],[127.5,.03,.13,.31,.45],[130.5,.11,.19,.27,.57],[133.5,.06,.23,.37,.49],[136.5,.09,.15,.33,.63],[139.5,.04,.27,.41,.53],[142.5,.07,.19,.29,.47],[145.5,.03,.13,.23,.39],[148.5,.09,.25,.35,.57],[151.5,.06,.17,.31,.43],[154.5,.04,.11,.27,.37],[157.5,.08,.21,.33,.49],[160.5,.03,.15,.23,.44],[163.5,.07,.19,.31,.41],[166.5,.09,.13,.27,.37],[169.5,.04,.23,.33,.43],[172.5,.06,.17,.29,.47],[175.5,.03,.11,.25,.39],[178.5,.08,.21,.27,.43],[181.5,.06,.15,.31,.37],[184.5,.04,.09,.19,.27],[187.5,.07,.13,.35,.47],[190.5,.03,.17,.29,.39],[193.5,.09,.23,.33,.43],[196.5,.04,.13,.19,.27],[199.5,.06,.11,.21,.31],[202.5,.08,.17,.27,.37],[205.5,.03,.13,.23,.33],[208.5,.07,.09,.19,.29],[211.5,.04,.15,.25,.41],
[214.5,.06,.17,.31,.49],[217.5,.03,.11,.27,.37],[220.5,.09,.19,.35,.57],[223.5,.07,.13,.29,.43],[226.5,.04,.23,.39,.61],[229.5,.08,.21,.33,.47],[232.5,.03,.15,.27,.53],[235.5,.06,.19,.37,.43],[238.5,.09,.13,.25,.49],[241.5,.04,.17,.31,.41],[244.5,.07,.21,.29,.57],[247.5,.03,.11,.35,.63],[250.5,.08,.23,.41,.53],[253.5,.06,.17,.27,.39],[256.5,.04,.13,.31,.47],[259.5,.09,.19,.37,.57],[262.5,.03,.23,.33,.43],[265.5,.07,.15,.27,.39],[268.5,.05,.11,.31,.37],[271.5,.09,.17,.23,.41],[274.5,.03,.13,.29,.39],[277.5,.06,.21,.33,.44],[280.5,.08,.15,.25,.37],[283.5,.04,.11,.29,.41],[286.5,.07,.19,.35,.44],[289.5,.03,.13,.25,.39],[292.5,.09,.23,.31,.44],[295.5,.05,.17,.29,.57],[298.5,.08,.13,.39,.53],[301.5,.03,.21,.33,.61],[304.5,.06,.17,.41,.49],[307.5,.09,.23,.27,.57],[310.5,.04,.13,.31,.43],[313.5,.07,.19,.35,.53],[316.5,.03,.11,.41,.57],[319.5,.06,.21,.29,.61],[322.5,.09,.15,.39,.47],[325.5,.04,.19,.31,.43],[328.5,.07,.23,.37,.57],
[331.5,.03,.13,.29,.49],[334.5,.09,.21,.39,.53],[337.5,.05,.15,.33,.43],[340.5,.07,.19,.37,.63],[343.5,.03,.11,.27,.47],[346.5,.06,.23,.33,.41],[349.5,.09,.13,.27,.39],[352.5,.04,.17,.25,.44],[355.5,.07,.11,.29,.37],[358.5,.03,.19,.35,.44],[361.5,.06,.13,.41,.47],[364.5,.08,.23,.33,.57],[367.5,.04,.11,.27,.39],[370.5,.07,.17,.23,.33],[373.5,.03,.09,.21,.27],[376.5,.05,.13,.23,.37],[379.5,.08,.19,.33,.41],[382.5,.03,.11,.27,.39],[385.5,.06,.21,.33,.41],[388.5,.09,.15,.25,.37],[391.5,.04,.17,.31,.43],[394.5,.07,.13,.27,.33],[397.5,.03,.09,.17,.23],[400.5,.05,.11,.19,.33],[403.5,.07,.13,.23,.27],[406.5,.03,.09,.17,.27],[409.5,.05,.15,.19,.33],[412.5,.07,.11,.25,.37],[415.5,.03,.13,.21,.31],[418.5,.06,.09,.17,.27],[421.5,.04,.11,.23,.33],[424.5,.07,.15,.21,.37],[427.5,.03,.09,.19,.29],[430.5,.05,.11,.17,.37],[433.5,.07,.15,.23,.33],[436.5,.03,.09,.19,.37],[439.5,.05,.13,.27,.43],[442.5,.07,.09,.23,.39],[445.5,.03,.15,.29,.43],[448.5,.06,.11,.25,.47],[451.5,.04,.13,.33,.39],[454.5,.07,.17,.23,.43],[457.5,.03,.11,.29,.37],
[460.5,.06,.15,.27,.47],[463.5,.09,.13,.39,.53],[466.5,.04,.23,.33,.57],[469.5,.07,.11,.31,.47],[472.5,.03,.17,.37,.43],[475.5,.06,.13,.29,.53],[478.5,.08,.21,.41,.57],[481.5,.04,.11,.27,.37],[484.5,.07,.19,.33,.43],[487.5,.03,.13,.23,.29],[490.5,.06,.17,.27,.41],[493.5,.09,.11,.19,.39],[496.5,.03,.13,.23,.37]
];
const topLowB = [
[499.5,.06,.09,.17,.33],[502.5,.04,.11,.21,.29],[505.5,.07,.13,.27,.33],[508.5,.03,.15,.23,.37],[511.5,.05,.09,.19,.41],[514.5,.08,.13,.31,.43],[517.5,.03,.17,.25,.39],[520.5,.06,.11,.33,.47],[523.5,.09,.15,.29,.37],[526.5,.04,.19,.33,.41],[529.5,.07,.13,.23,.57],[532.5,.03,.11,.29,.44],[535.5,.05,.17,.37,.43],[538.5,.08,.13,.21,.33],[541.5,.03,.11,.23,.39],[544.5,.06,.17,.29,.44],[547.5,.04,.09,.21,.37],[550.5,.07,.13,.23,.33],[553.5,.03,.11,.19,.39],[556.5,.05,.15,.27,.47],[559.5,.08,.13,.23,.44],[562.5,.03,.11,.21,.39],[565.5,.07,.15,.27,.33],[568.5,.04,.09,.23,.41],[571.5,.06,.13,.31,.44],[574.5,.03,.17,.21,.37],[577.5,.08,.11,.27,.47],[580.5,.05,.15,.33,.43],[583.5,.03,.09,.23,.37],[586.5,.06,.13,.27,.52],[589.5,.09,.17,.31,.41],[592.5,.04,.11,.23,.39],[595.5,.07,.15,.29,.47],[598.5,.03,.09,.21,.33],[601.5,.05,.13,.27,.43],[604.5,.08,.11,.23,.37],[607.5,.03,.17,.31,.53],[610.5,.06,.13,.27,.41],[613.5,.09,.15,.33,.57],[616.5,.04,.11,.25,.39],[619.5,.07,.19,.37,.43],[622.5,.03,.13,.27,.47],[625.5,.06,.17,.23,.41],[628.5,.08,.11,.29,.53],[631.5,.04,.15,.33,.43],[634.5,.07,.19,.27,.37],[637.5,.03,.09,.21,.29],[640.5,.05,.13,.31,.41],[643.5,.08,.17,.23,.47],[646.5,.03,.11,.29,.37],[649.5,.06,.15,.27,.43],[652.5,.04,.09,.21,.33],[655.5,.07,.13,.27,.39],[658.5,.03,.11,.19,.29],[661.5,.05,.17,.23,.37],
[664.5,.08,.13,.27,.53],[667.5,.03,.11,.19,.37],[670.5,.06,.15,.23,.47],[673.5,.09,.19,.33,.41],[676.5,.04,.13,.27,.43],[679.5,.07,.17,.31,.53],[682.5,.03,.09,.23,.47],[685.5,.05,.13,.29,.57],[688.5,.08,.21,.37,.43],[691.5,.03,.11,.27,.49],[694.5,.06,.15,.33,.41],[697.5,.09,.17,.29,.47],[700.5,.04,.13,.23,.53],[703.5,.07,.19,.27,.39],[706.5,.03,.11,.23,.57],[709.5,.05,.15,.33,.43],[712.5,.08,.13,.29,.47],[715.5,.03,.19,.27,.41],[718.5,.06,.11,.23,.37],[721.5,.04,.09,.19,.29],[724.5,.07,.13,.27,.53],[727.5,.03,.11,.23,.41],[730.5,.05,.17,.29,.37],[733.5,.08,.13,.19,.33],[736.5,.03,.09,.21,.31],[739.5,.06,.11,.17,.27],[742.5,.04,.13,.19,.29],[745.5,.07,.09,.23,.33],[748.5,.03,.11,.17,.27],[751.5,.05,.13,.21,.37],[754.5,.07,.09,.19,.31],[757.5,.03,.11,.15,.25],[760.5,.05,.13,.21,.29],
[763.5,.03,.07,.11,.17,.25],[766.5,.05,.09,.15,.21,.31],[769.5,.03,.07,.13,.19,.33],[772.5,.04,.09,.17,.27,.37],[775.5,.03,.07,.11,.19,.25],[778.5,.05,.13,.17,.23,.29],[781.5,.03,.09,.11,.19,.25],[784.5,.04,.07,.13,.21,.31],[787.5,.03,.09,.15,.23,.27],[790.5,.05,.07,.13,.19,.29],[793.5,.03,.09,.15,.17,.25],[796.5,.04,.07,.11,.19,.27],[799.5,.03,.09,.13,.17,.25],[802.5,.05,.07,.11,.21,.27],[805.5,.03,.09,.17,.27,.35],[808.5,.04,.07,.13,.23,.33],[811.5,.03,.09,.15,.21,.37],[814.5,.05,.07,.13,.29,.39],[817.5,.03,.09,.17,.31,.37],[820.5,.04,.11,.19,.33,.43],[823.5,.03,.09,.13,.31,.37],[826.5,.05,.07,.17,.23,.33],[829.5,.03,.09,.19,.29,.37],[832.5,.04,.11,.17,.27,.39],[835.5,.03,.07,.13,.23,.33],[838.5,.05,.09,.15,.21,.31],[841.5,.03,.07,.17,.23,.37],[844.5,.04,.09,.13,.19,.27],[847.5,.03,.07,.15,.21,.29],[850.5,.05,.11,.17,.23,.33],[853.5,.03,.07,.13,.19,.27],[856.5,.04,.09,.17,.29,.31],[859.5,.03,.07,.13,.19,.23],[862.5,.05,.09,.15,.21,.33],[865.5,.03,.07,.11,.19,.29],[868.5,.04,.09,.17,.23,.37],[871.5,.03,.07,.13,.19,.27],[874.5,.05,.11,.15,.27,.33],[877.5,.03,.07,.13,.21,.29],[880.5,.04,.09,.17,.23,.31],[883.5,.03,.07,.11,.15,.21],[886.5,.05,.09,.13,.19,.27],[889.5,.03,.07,.11,.17,.23],[892.5,.04,.09,.13,.21,.25],[895.5,.03,.07,.15,.19,.29],[898.5,.05,.09,.13,.21,.31],[901.5,.03,.07,.11,.17,.27],[904.5,.04,.09,.15,.23,.33],[907.5,.03,.07,.13,.17,.25],[910.5,.05,.09,.11,.19,.29],[913.5,.03,.07,.13,.17,.23],[916.5,.04,.09,.11,.21,.27]
];
const topLowC = [
[920.5,.03,.07,.13,.19,.29],[923.5,.05,.09,.17,.21,.31],[926.5,.03,.11,.15,.25,.35],[929.5,.07,.13,.21,.29,.43],[932.5,.04,.09,.17,.33,.39],[935.5,.03,.13,.23,.37,.53],[938.5,.06,.11,.19,.33,.43],[941.5,.03,.15,.27,.39,.63],[944.5,.07,.13,.23,.37,.57],[947.5,.04,.09,.19,.29,.47],[950.5,.03,.11,.23,.27,.43],[953.5,.06,.13,.17,.33,.39],[956.5,.03,.09,.21,.27,.37],[959.5,.05,.13,.19,.29,.39],[962.5,.03,.09,.17,.23,.33],[965.5,.06,.11,.19,.25,.41],[968.5,.03,.13,.17,.23,.37],[971.5,.05,.09,.15,.21,.27],[974.5,.03,.11,.17,.27,.33],[977.5,.06,.13,.19,.23,.37],[980.5,.03,.09,.15,.21,.29],[983.5,.05,.11,.17,.25,.33],[986.5,.03,.13,.19,.27,.37],[989.5,.06,.09,.15,.23,.33],[992.5,.03,.11,.21,.27,.39],[995.5,.05,.13,.19,.29,.37],[998.5,.03,.09,.17,.33,.43],[1001.5,.06,.11,.23,.31,.41],[1004.5,.03,.13,.21,.29,.39],[1007.5,.05,.09,.19,.33,.47],[1010.5,.03,.11,.17,.27,.43],[1013.5,.06,.13,.23,.37,.53],[1016.5,.03,.09,.19,.27,.47],[1019.5,.05,.11,.21,.33,.43],[1022.5,.03,.13,.17,.29,.39],[1025.5,.06,.09,.23,.27,.37],[1028.5,.03,.11,.19,.25,.43],[1031.5,.05,.13,.17,.31,.39],[1034.5,.03,.09,.21,.33,.41],
[1037.5,.06,.13,.19,.29,.43],[1040.5,.03,.09,.23,.37,.47],[1043.5,.05,.11,.17,.33,.43],[1046.5,.03,.13,.21,.29,.57],[1049.5,.07,.09,.19,.37,.49],[1052.5,.03,.11,.27,.41,.53],[1055.5,.05,.13,.23,.33,.47],[1058.5,.03,.09,.19,.29,.57],[1061.5,.07,.11,.27,.37,.43],[1064.5,.03,.13,.17,.33,.53],[1067.5,.05,.09,.21,.29,.47],[1070.5,.03,.11,.19,.27,.41],[1073.5,.06,.13,.23,.37,.43],[1076.5,.03,.09,.17,.31,.47],[1079.5,.05,.11,.21,.27,.53],[1082.5,.03,.13,.19,.33,.39],[1085.5,.07,.09,.23,.29,.47],[1088.5,.03,.11,.17,.27,.41],[1091.5,.05,.13,.19,.33,.43],[1094.5,.03,.09,.21,.29,.37],[1097.5,.06,.11,.17,.27,.39],[1100.5,.03,.13,.23,.31,.47],[1103.5,.05,.09,.19,.33,.53],[1106.5,.03,.11,.21,.29,.43],[1109.5,.07,.13,.17,.37,.47],[1112.5,.03,.09,.23,.27,.53],[1115.5,.05,.11,.19,.33,.41],[1118.5,.03,.13,.21,.29,.43],[1121.5,.06,.09,.17,.27,.37],[1124.5,.03,.11,.23,.33,.47],[1127.5,.05,.13,.19,.27,.41],[1130.5,.03,.09,.21,.31,.39],[1133.5,.07,.11,.17,.29,.37],[1136.5,.03,.13,.23,.27,.43],[1139.5,.05,.09,.19,.33,.39],[1142.5,.03,.11,.17,.27,.37],[1145.5,.06,.13,.21,.29,.41],[1148.5,.03,.09,.17,.23,.33],
[1151.5,.05,.11,.19,.23,.27],[1154.5,.03,.13,.23,.27,.37],[1157.5,.07,.09,.15,.29,.39],[1160.5,.03,.11,.21,.27,.31],[1163.5,.05,.13,.17,.23,.33],[1166.5,.03,.09,.19,.25,.29],[1169.5,.06,.11,.15,.23,.27],[1172.5,.03,.13,.21,.27,.31],[1175.5,.05,.09,.17,.25,.29],[1178.5,.03,.11,.15,.23,.27],[1181.5,.07,.13,.17,.25,.29],[1184.5,.03,.09,.19,.23,.27],[1187.5,.05,.11,.15,.25,.29],[1190.5,.03,.13,.17,.23,.27],[1193.5,.06,.09,.19,.25,.31],[1196.5,.03,.11,.15,.21,.29],[1199.5,.05,.13,.17,.33,.37],[1202.5,.03,.09,.19,.29,.41],[1205.5,.07,.11,.21,.33,.39],[1208.5,.03,.13,.17,.27,.37],[1211.5,.05,.09,.23,.31,.43],[1214.5,.03,.11,.19,.29,.41],[1217.5,.06,.13,.17,.37,.47],[1220.5,.03,.09,.21,.33,.43],[1223.5,.05,.11,.19,.27,.39],
[1226.5,.03,.13,.17,.33,.53],[1229.5,.07,.09,.23,.39,.57],[1232.5,.03,.11,.27,.33,.63],[1235.5,.05,.13,.21,.37,.53],[1238.5,.03,.09,.17,.29,.47],[1241.5,.06,.11,.23,.37,.57],[1244.5,.03,.13,.27,.41,.63],[1247.5,.05,.09,.19,.33,.52],[1250.5,.03,.11,.23,.39,.57],[1253.5,.07,.13,.21,.37,.61],[1256.5,.03,.09,.17,.33,.53],[1259.5,.05,.11,.27,.41,.57],[1262.5,.03,.13,.23,.37,.52],[1265.5,.06,.09,.19,.33,.63],[1268.5,.03,.11,.17,.29,.37],[1271.5,.05,.13,.23,.27,.39],[1274.5,.03,.09,.21,.33,.53],[1277.5,.07,.11,.17,.27,.37],[1280.5,.03,.13,.19,.29,.41],[1283.5,.05,.09,.15,.23,.37],[1286.5,.03,.11,.17,.27,.33],[1289.5,.06,.09,.19,.23,.29],[1292.5,.03,.13,.15,.27,.37],[1295.5,.05,.09,.17,.23,.33],[1298.5,.03,.11,.21,.27,.39],[1301.5,.07,.13,.19,.33,.53],[1304.5,.03,.09,.17,.37,.57],[1307.5,.05,.11,.23,.39,.49],[1310.5,.03,.13,.27,.33,.57],[1313.5,.06,.09,.21,.37,.53],[1316.5,.03,.11,.27,.33,.49],[1319.5,.05,.13,.23,.37,.57],[1322.5,.03,.09,.19,.29,.47],[1325.5,.06,.11,.17,.33,.39]
];

// positions along the concatenated regions, lower panel
const bottomBounds = [388.5, 460.7, 540.3, 603.3, 665, 727.3, 823.3, 897.3, 967.3, 1013.7, 1076];
const bottomGenes = [358.3, 429.3, 500.7, 563.3, 622.7, 692.3, 771.7, 855.3, 934.3, 988.3, 1041];
const bottomLabelAt = [352, 425, 500, 573, 635, 696.5, 775, 860, 932, 990, 1045];
const bottomBaseline = [315, 1075];

const bot1p = [
[315,.05,.12,.25,.4,.58],[316,.08,.18,.32,.5,.72,.9],[318,.04,.14,.28,.45,.65,.95],[319,.1,.22,.36,.6,1.0,1.15,1.3],[321,.06,.16,.3,.5,.7,.85],[323,.12,.2,.34,.46,.62],[325,.05,.14,.26,.4,.55],[327,.08,.18,.3,.48,.68],[329,.04,.12,.24,.36,.7],[331,.1,.2,.32,.42,.6],[333,.06,.16,.28,.5,.85,.95],[334,.12,.24,.38,.65,1.2,1.35],[335,.05,.14,.3,.6,1.0,1.3,1.5],[336,.08,.2,.42,.72,.9,1.25,1.5],[337,.12,.28,.5,.85,1.45],[339,.04,.18,.34,.62,.8],[341,.1,.22,.4,.55,.75,1.15],[343,.06,.14,.3,.48,.9,1.3],[345,.12,.2,.36,.6,.72,1.1],[347,.05,.16,.28,.42,.7,1.0],[349,.08,.24,.38,.52,.85,.95],[351,.04,.12,.26,.46,.65,1.0],[353,.1,.2,.34,.5,.68],[355,.06,.18,.3,.44,.62],[357,.12,.22,.38,.55,.7],[359,.05,.14,.26,.4,.5],[361,.08,.18,.32,.42,1.2],[362,.04,.12,.24,.38,1.15,1.5],[364,.1,.2,.3,.46,1.25,1.5],[365,.06,.16,.34,.6,1.2,1.7,1.85,2.0],[366,.12,.24,.42,.7,1.2,1.3],[367,.05,.18,.36,.55,1.5,1.8],[368,.08,.22,.4,.75,1.25,1.85,2.0,2.45],[369,.04,.14,.3,.6,1.3,1.85,2.0],[370,.1,.26,.44,.85,1.3,1.4],[371,.06,.2,.5,.8,1.85],[372,.12,.16,.34,.7,1.3],[373,.05,.22,.4,.62,1.4],[375,.08,.18,.32,.5,.8],[377,.04,.14,.26,.45,.72],[379,.1,.2,.38,.55,.62],[381,.06,.16,.28,.42,.85],[383,.12,.22,.34,.58,.7],[385,.05,.14,.3,.44,.75],[387,.08,.18,.26,.4,.6]
];
const bot1q = [
[389,.04,.12,.24,.46,.8],[390,.1,.2,.34,.72,1.0,2.03],[391,.06,.16,.3,.62,.85,1.45,1.5],[392,.12,.24,.42,.7,1.02,1.6],[394,.05,.14,.28,.55,.9],[396,.08,.18,.36,.5,.75],[398,.04,.12,.3,.45,.85,1.1],[400,.1,.22,.4,.62,.95,1.25],[402,.06,.16,.26,.55,.7],[404,.12,.2,.34,.72,1.0,1.4],[405,.05,.14,.3,.6,.9,1.2],[406,.08,.18,.42,.85,1.7,1.75,2.0],[407,.04,.26,.5,.95,2.1,2.15,2.4,2.65,2.7,2.75],[408,.1,.2,.36,.75,1.1,1.8],[410,.06,.16,.28,.55,.82],[412,.12,.22,.38,.62,.9],[414,.05,.14,.32,.5,.72],[416,.08,.18,.3,.45,.6,.85],[418,.04,.12,.26,.7,1.4,1.45,1.5,1.6],[419,.1,.24,.4,.8,1.1,1.2],[420,.06,.2,.34,.6,.95],[422,.12,.28,.42,.75,1.4,1.55],[424,.05,.16,.3,.55,1.0,2.0],[426,.08,.22,.36,.65,.85],[428,.04,.18,.32,.72,1.6,1.65,2.03],[429,.1,.26,.44,.62,1.2],[431,.06,.14,.3,.55,.95],[432,.12,.22,.38,.7,1.1,1.75],[433,.05,.2,.34,.62,.85,2.15,2.2,2.25,2.85],[434,.08,.16,.28,.5,1.0,1.3,1.85],[436,.04,.24,.42,.72,1.75,1.8,1.9,1.95],[438,.1,.18,.34,.6,.9,1.9],[440,.06,.14,.3,.55,1.3,1.4,1.5],[442,.12,.2,.36,.48,.75],[444,.05,.26,.4,.62,.85],[446,.08,.16,.32,.5,.7],[448,.04,.22,.38,.55,.9],[450,.1,.18,.3,.62,1.45],[451,.06,.14,.36,.7,1.15,.85],[452,.12,.24,.42,.6,1.25],[454,.05,.2,.3,.46,.72],[456,.08,.16,.34,.58,.65],[458,.04,.12,.26,.42,.8],[460,.1,.22,.38,.55,.9]
];
const bot2p = [
[461,.06,.18,.32,.6,1.0,1.95],[463,.12,.24,.4,.85,1.2,1.6],[464,.05,.14,.3,.7,1.3,1.5],[465,.08,.2,.36,.95,1.4,1.9],[467,.04,.16,.42,.62,1.1,1.25],[468,.1,.26,.5,.8,1.05,1.25,2.45],[469,.06,.18,.34,.75,1.3,2.2],[471,.12,.22,.3,.55,.9,1.15],[472,.05,.14,.38,.68,1.0,1.3],[474,.08,.2,.34,.6,.85,1.2],[475,.04,.16,.46,.72,1.05,1.3],[477,.1,.24,.4,.82,1.25,2.3],[478,.06,.18,.3,.6,1.1,1.4],[480,.12,.2,.36,.7,.95,1.9],[481,.05,.14,.42,.9,1.7,1.3],[482,.08,.22,.5,.75,1.2,1.9,2.2],[483,.04,.18,.32,.85,1.7,2.15],[484,.1,.26,.44,.65,1.1,1.95],[485,.06,.16,.3,.8,1.55,2.1],[487,.12,.2,.4,.62,1.4,2.05],[488,.05,.14,.36,.7,1.0,1.8],[490,.08,.24,.46,.95,1.2],[492,.04,.18,.34,.75,1.3,.9],[493,.1,.22,.5,.85,1.1,1.75],[495,.06,.16,.38,.62,1.0],[496,.12,.26,.44,.72,1.25,2.75],[497,.05,.2,.3,.9,1.1,2.2,2.5],[498,.08,.18,.42,.8,1.85,1.9,1.8],[500,.04,.14,.36,.6,1.2],[502,.1,.22,.3,.5,1.18],[503,.06,.16,.26,.42,1.18],[505,.12,.2,.34,.55,.72],[507,.05,.14,.28,.4],[509,.08,.18,.22,.36,.85],[511,.04,.12,.26,.45,.6],[512,.1,.2,.3,.5,1.55],[514,.06,.16,.24,.4,.7,.95],[515,.12,.22,.34,.62,1.0,1.3],[517,.05,.14,.28,.46,.72],[519,.08,.18,.3,.42,.6],[521,.04,.12,.24,.38],[523,.1,.2,.3,.5,.55],[525,.06,.16,.26,.46,.7],[527,.12,.22,.36,.6,.82],[529,.05,.14,.3,.72,1.15,.95],[531,.08,.2,.44,.85,1.6,1.0],[533,.04,.18,.32,.62,.95,1.55],[535,.1,.24,.5,.78,1.05],[536,.06,.16,.4,.7,1.5,.9],[537,.12,.26,.46,.92,1.15],[539,.05,.14,.34,.58,.72]
];
const bot4q21 = [
[541,.08,.2,.36,.62,.85],[542,.04,.16,.48,.72,1.0],[544,.1,.24,.4,.8,1.1],[545,.06,.18,.34,.6,.95,1.2],[546,.12,.22,.5,.75,1.15,1.3,1.5],[548,.05,.14,.3,.62,.95],[550,.08,.2,.4,.8,.7],[552,.04,.12,.26,.5,.62],[554,.1,.18,.3,.42,.48],[556,.06,.14,.22,.4,.46,.68],[558,.12,.2,.34,.45,.82],[560,.05,.16,.28,.55,.9],[561,.08,.22,.42,.6,1.05],[563,.04,.14,.3,.58,.72,.82],[565,.1,.2,.36,.55,.62],[567,.06,.18,.26,.44,.7],[569,.12,.22,.32,.48,.6],[571,.05,.14,.28,.4,.55],[573,.08,.16,.36,.55,.7],[575,.04,.2,.3,.62,.85,1.0],[576,.1,.24,.46,.8,1.2,1.75],[577,.06,.18,.34,.72,1.0,1.4,1.45],[578,.12,.26,.5,.9,1.2,1.95],[580,.05,.16,.3,.55,.75],[582,.08,.2,.4,.62,.9],[583,.04,.14,.34,.72,1.0],[584,.1,.22,.46,.85,1.1],[585,.06,.18,.3,.65,.95,1.2],[587,.12,.2,.36,.5,.8],[589,.05,.14,.28,.46,.62],[591,.08,.18,.4,.6,.72],[593,.04,.12,.26,.42,.95],[595,.1,.2,.34,.55,.65],[597,.06,.16,.3,.5,.8],[599,.12,.24,.42,.62,.75],[601,.05,.14,.28,.48,1.0]
];
const bot4q31 = [
[604,.08,.2,.36,.6,.72],[606,.04,.16,.3,.5,.85],[608,.1,.22,.4,.66,.8],[610,.06,.14,.34,.55,.78],[612,.12,.2,.28,.62,.7],[614,.05,.18,.42,.75,.95],[615,.08,.24,.36,.68,1.25],[617,.04,.14,.5,.8,.9],[618,.1,.22,.34,.62,1.0],[620,.06,.16,.44,.72,.95],[621,.12,.26,.38,.85,1.2,1.38],[623,.05,.18,.3,.7,.62],[625,.08,.2,.36,.55,.8],[627,.04,.14,.26,.46,.7],[629,.1,.22,.32,.52,1.6],[631,.06,.16,.28,.44,.62,.85],[633,.12,.2,.34,.5,.75],[635,.05,.14,.3,.42,.95,1.45],[636,.08,.18,.26,.55,1.3,1.4],[638,.04,.12,.34,.48,.68],[640,.1,.2,.3,.42,.6],[642,.06,.16,.24,.38,.72],[644,.12,.22,.32,.5,.55],[646,.05,.14,.26,.42,.6],[648,.08,.18,.34,.46,.8],[650,.04,.12,.28,.55,.9],[651,.1,.2,.36,.7,1.05,1.5],[653,.06,.16,.3,.6,.95],[654,.12,.24,.42,.8,1.1,1.2,2.68],[655,.05,.14,.38,.9,1.05,1.4,2.82],[657,.08,.2,.3,.5,.72],[659,.04,.16,.26,.46,.6],[661,.1,.22,.34,.55,.7],[663,.06,.14,.28,.5,.85],[665,.12,.2,.36,.6,1.45,1.8]
];
const bot8q = [
[667,.05,.18,.3,.55,.95],[669,.08,.14,.26,.48,.7],[671,.04,.2,.34,.42,.6],[673,.1,.16,.28,.5,.72],[675,.06,.22,.36,.62,.55],[677,.12,.18,.3,.46,.65],[679,.05,.14,.24,.4,.78],[681,.08,.2,.32,.52,.85],[683,.04,.12,.28,.6,.9],[685,.1,.22,.38,.72,1.0],[687,.06,.16,.42,.8,1.25],[688,.12,.24,.5,.9,1.05],[689,.05,.18,.34,.75,1.5,1.6,1.65],[690,.08,.2,.44,.85,1.05,1.25],[692,.04,.14,.3,.62,1.1],[694,.1,.22,.36,.55,.95],[696,.06,.16,.48,.75,1.2],[697,.12,.2,.3,.6,1.9],[699,.05,.14,.4,.7,.9],[700,.08,.18,.34,.82,1.0],[701,.04,.24,.46,.62,.95,1.45],[703,.1,.2,.3,.55,.78],[705,.06,.16,.38,.65,.9],[707,.12,.22,.5,.85,1.25,1.4,1.45,1.5,1.55],[709,.05,.18,.34,.7,1.0,1.2],[711,.08,.14,.28,.55,1.2],[713,.04,.2,.36,.5,.72],[715,.1,.16,.26,.42,.6],[717,.06,.14,.24,.38,.52],[719,.12,.2,.3,.46,.7],[721,.05,.16,.28,.55,.85,1.0],[722,.08,.18,.34,.6,.95],[724,.04,.12,.22,.4,.68],[726,.1,.2,.32,.48,.72]
];
const bot9p = [
[728,.06,.14,.24,.38,.5],[730,.12,.18,.3,.55,.7],[731,.05,.2,.42,.62,1.0],[732,.08,.16,.34,.7,.9],[734,.04,.22,.3,.52,.62],[736,.1,.14,.26,.44,.58],[738,.06,.18,.24,.36],[740,.12,.2,.3,.42,.45],[742,.05,.14,.22,.34],[744,.08,.16,.26,.4,.5],[746,.04,.12,.2,.3,.55],[748,.1,.18,.28,.44,.68],[750,.06,.14,.24,.36,.72],[752,.12,.2,.32,.55,.6],[754,.05,.16,.28,.45,.8],[756,.08,.18,.36,.6,.85],[757,.04,.22,.42,.7,1.05],[758,.1,.14,.3,.5,1.3],[760,.06,.18,.36,.72,1.05,1.3],[761,.12,.24,.46,.85,1.7],[763,.05,.14,.3,.55,1.33],[765,.08,.2,.38,.62,1.15],[767,.04,.16,.26,.48,.75],[768,.1,.18,.34,.55,1.1],[770,.06,.14,.28,.42,.68],[772,.12,.2,.32,.5,.85],[773,.05,.16,.24,.44,1.65],[775,.08,.18,.3,.4,.6],[777,.04,.12,.22,.36,.62],[778,.1,.2,.28,.5,1.2],[780,.06,.14,.34,.46,.7],[782,.12,.18,.3,.42,.58],[784,.05,.16,.24,.38,1.2],[785,.08,.2,.32,.55,1.0,1.1],[787,.04,.12,.26,.4,.62],[789,.1,.16,.36,.52,.75],[791,.06,.18,.28,.48,.72],[792,.12,.22,.4,.6,1.4],[794,.05,.14,.3,.5,.68],[796,.08,.2,.34,.46,.85],[798,.04,.16,.26,.55,.72],[800,.1,.18,.36,.6,.8],[802,.06,.14,.3,.5,.9,1.52],[803,.12,.22,.42,.66,1.3],[804,.05,.16,.34,.72,1.25],[806,.08,.2,.28,.5,.62],[808,.04,.12,.24,.42,.58],[810,.1,.18,.3,.46,.55],[812,.06,.14,.22,.38,.65],[814,.12,.2,.32,.48,.7],[816,.05,.16,.26,.44,.6],[818,.08,.18,.34,.55,.9],[820,.04,.14,.28,.5,.85],[822,.1,.22,.36,.46,.62]
];
const bot11p = [
[824,.06,.16,.26,.42,.62],[826,.12,.2,.34,.55,.78],[828,.05,.14,.28,.7,.85],[829,.08,.22,.5,.95,1.2],[830,.04,.18,.4,.85,1.3,2.7,3.7],[831,.1,.26,.62,1.05,1.6,2.0,2.65,2.85],[832,.06,.16,.46,.95,1.5,1.85,2.55],[833,.12,.24,.72,1.1,1.35,2.35,2.5,4.6],[834,.05,.2,.55,.8,1.75,2.25,4.55],[835,.08,.3,.66,1.2,2.1,2.25,2.5,4.6,4.8],[836,.04,.14,.42,.9,2.55,4.65,4.78,4.83],[838,.1,.22,.5,.82,1.1,1.3,2.0],[839,.06,.18,.36,.95,1.3,1.05],[840,.12,.26,.6,1.0,1.15],[841,.05,.2,.42,.85,1.4,1.5,1.7],[842,.08,.16,.55,.75,1.1,1.6],[843,.04,.24,.38,.9,1.25,1.7],[845,.1,.18,.46,.8,1.0],[847,.06,.14,.3,.6,.72],[849,.12,.22,.4,.55,.85],[851,.05,.16,.28,.7,.62],[853,.08,.2,.36,.52,.95],[855,.04,.12,.26,.42,.75],[857,.1,.18,.34,.62,1.0,1.4,1.45,1.5],[858,.06,.14,.3,.5,1.3,1.42],[860,.12,.22,.38,.55,.85,1.4],[862,.05,.16,.26,.42,1.0,1.4],[864,.08,.2,.34,.6,.95,1.38],[866,.04,.14,.28,.46,.72,.9],[868,.1,.18,.36,.55,.85,1.05],[870,.06,.22,.3,.62,.95],[872,.12,.16,.4,.75,1.1,1.3],[873,.05,.2,.34,.6,1.2],[875,.08,.14,.28,.7,1.15],[877,.04,.18,.36,.55,.8],[879,.1,.22,.44,.72,1.0,1.5,1.6],[880,.06,.16,.3,.62,1.1,1.55],[882,.12,.2,.38,.58,.9],[884,.05,.14,.3,.48,.75],[886,.08,.18,.36,.6,1.2],[888,.04,.22,.42,.72,.95],[890,.1,.16,.3,.55,1.15],[891,.06,.2,.38,.65,1.1],[893,.12,.18,.34,.7,1.25],[895,.05,.14,.28,.5,.85]
];
const bot11q = [
[897,.08,.2,.36,.62,1.35,1.5,2.1],[899,.04,.16,.3,.5,.9],[901,.1,.22,.42,.72,1.0],[902,.06,.18,.34,.6,1.6],[903,.12,.26,.46,.85,1.25],[905,.05,.14,.3,.55,.8],[907,.08,.2,.38,.7,.95],[908,.04,.16,.44,.75,1.25],[910,.1,.24,.34,.6,.9],[912,.06,.18,.42,.66,1.05],[914,.12,.22,.5,.8,1.4],[915,.05,.16,.36,.7,1.2,1.55,1.6],[916,.08,.2,.3,.62,1.5],[917,.04,.14,.42,.75,1.35],[918,.1,.22,.34,.58,1.15],[920,.06,.18,.46,.72,1.4],[922,.12,.24,.36,.6,.85],[924,.05,.14,.3,.5,.95],[925,.08,.2,.38,.62,1.2],[927,.04,.16,.28,.72,.88],[928,.1,.22,.34,.55,1.1],[930,.06,.18,.42,.66,.82],[932,.12,.2,.3,.5,.72],[934,.05,.14,.26,.46,.85],[935,.08,.18,.36,.6,1.0],[937,.04,.16,.28,.42,.75],[939,.1,.22,.34,.55,.8],[941,.06,.14,.3,.62,.9],[942,.12,.2,.4,.75,1.1,1.3],[943,.05,.18,.36,.68,1.6],[945,.08,.24,.44,.8,1.25],[947,.04,.16,.3,.55,.95],[948,.1,.2,.42,.72,1.7],[950,.06,.14,.34,.85,1.45,1.6,1.7,1.8],[952,.12,.22,.38,.6,.95],[954,.05,.16,.3,.55,.85],[955,.08,.18,.36,.7,1.35],[957,.04,.2,.42,.75,1.1,1.4],[958,.1,.14,.3,.62,1.25],[960,.06,.18,.34,.5,.8],[962,.12,.22,.3,.46,.62],[964,.05,.16,.28,.55,.9],[965,.08,.2,.38,.7,1.45],[966,.04,.14,.32,.6,.85]
];
const bot13q21 = [
[968,.1,.2,.3,.55,.72],[970,.06,.16,.4,.62,.85],[972,.12,.22,.34,.75,1.0,2.42,2.68],[973,.05,.18,.42,.7,.92,2.65],[975,.08,.2,.3,.62,1.05,2.55],[976,.04,.26,.5,.85,1.15],[977,.1,.16,.36,.72,1.3],[978,.06,.22,.44,.9,1.2],[979,.12,.18,.3,.66,1.0,2.52],[980,.05,.24,.4,.8,1.2],[981,.08,.14,.34,.62,1.1],[982,.04,.2,.46,.75,1.57],[983,.1,.16,.3,.6,1.05,2.0,2.05],[984,.06,.24,.38,.55,.9,1.95],[985,.12,.2,.3,.5,.72,1.88],[986,.05,.18,.26,.62,.8,1.88],[988,.08,.22,.34,.5,.85,1.88],[990,.04,.16,.3,.72,1.0,1.88],[991,.1,.24,.42,.66,.95,1.5],[993,.06,.18,.28,.8,1.35],[995,.12,.2,.36,.7,1.0,1.5],[997,.05,.16,.44,.85,1.2],[999,.08,.22,.3,.62,.9],[1000,.04,.18,.38,.75,1.0],[1002,.1,.26,.34,.66,.85],[1004,.06,.2,.42,.55,.9],[1005,.12,.16,.3,.72,1.05],[1007,.05,.24,.36,.8,.95],[1009,.08,.18,.46,.9,1.15],[1011,.04,.2,.34,.62,.88],[1012,.1,.22,.4,1.2,1.45],[1013,.06,.16,.3,.7,.92]
];
const bot13q32 = [
[1015,.12,.26,.5,.85,1.05,2.4],[1016,.05,.2,.42,.95,1.2,2.0,2.25],[1017,.08,.3,.6,1.0,1.75],[1018,.04,.18,.36,.8,1.1,2.05,2.2],[1019,.1,.24,.5,.9,2.95],[1020,.06,.2,.44,.75,1.7,2.0,2.15],[1022,.12,.28,.55,.82,1.15],[1024,.05,.16,.4,.7,1.05],[1025,.08,.22,.34,.9,2.2],[1026,.04,.3,.62,1.0,1.4,2.0,2.5],[1028,.1,.18,.45,.85,1.3],[1029,.06,.26,.6,.95,1.2,1.95],[1031,.12,.2,.42,.75,1.05],[1032,.05,.24,.5,.8,2.8,3.39,3.62],[1033,.08,.18,.36,.65,1.0],[1035,.04,.2,.55,.9,1.35],[1036,.1,.26,.6,.95,1.25],[1037,.06,.22,.5,.85,1.2],[1039,.12,.16,.42,.72,.9,1.95],[1040,.05,.2,.36,.6,1.1,1.55],[1041,.08,.26,.5,.8,1.0,2.35],[1043,.04,.14,.3,.55,.85],[1045,.1,.2,.38,.5,.72],[1047,.06,.16,.28,.46,.62],[1049,.12,.22,.34,.42,.7],[1050,.05,.18,.3,.55,1.2],[1052,.08,.14,.26,.42,.68],[1054,.04,.2,.36,.6,.85],[1056,.1,.16,.3,.48,.75],[1057,.06,.22,.42,.62,1.0],[1058,.12,.18,.38,.8,1.15,1.6],[1059,.05,.26,.5,.72,1.0,3.08],[1060,.08,.2,.46,.9,1.55,2.15],[1061,.04,.14,.36,.7,1.45],[1062,.1,.24,.44,.6,1.95],[1063,.06,.18,.5,.82,1.45,2.15,3.0],[1064,.12,.2,.4,.72,2.45,2.55,2.7,2.95,3.1,3.2,3.3,3.4],[1065,.05,.26,.34,.9,1.1],[1067,.08,.16,.42,.62,.85],[1069,.04,.22,.46,.72,.6],[1071,.1,.18,.36,.52,.78],[1072,.06,.24,.4,.66,1.25],[1074,.12,.2,.3,.5,.62],[1075,.05,.16,.38,.55,.7]
];
// second pass over the dense low band, lower panel
const botLowA = [
[316.5,.03,.09,.17,.23,.31,.43],[319.5,.07,.13,.21,.29,.39,.53],[322.5,.03,.11,.19,.27,.37,.47],[325.5,.06,.09,.15,.23,.33,.45],[328.5,.03,.13,.21,.31,.41,.57],[331.5,.07,.11,.19,.27,.35,.49],[334.5,.03,.09,.17,.29,.43,.63],[337.5,.06,.15,.23,.33,.37,.55],[340.5,.03,.11,.21,.29,.47,.59],[343.5,.07,.13,.17,.27,.39,.51],[346.5,.03,.09,.23,.35,.43,.61],[349.5,.06,.11,.19,.31,.41,.57],[352.5,.03,.15,.21,.27,.37,.53],[355.5,.07,.09,.17,.29,.43,.47],[358.5,.03,.13,.19,.27,.33,.39],[361.5,.06,.09,.15,.23,.31,.37],[364.5,.03,.11,.21,.29,.37,.51],[367.5,.07,.13,.23,.31,.47,.63],[370.5,.03,.09,.19,.27,.39,.55],[373.5,.06,.15,.21,.33,.43,.57],[376.5,.03,.11,.17,.29,.37,.49],[379.5,.07,.13,.23,.31,.41,.53],[382.5,.03,.09,.19,.27,.35,.47],[385.5,.06,.11,.15,.23,.33,.39],
[388.5,.03,.09,.17,.27,.37,.53],[391.5,.07,.13,.21,.29,.43,.61],[394.5,.03,.11,.19,.33,.41,.63],[397.5,.06,.15,.23,.31,.47,.59],[400.5,.03,.09,.17,.27,.37,.51],[403.5,.07,.11,.21,.33,.45,.57],[406.5,.03,.13,.19,.29,.39,.55],[409.5,.06,.09,.23,.35,.43,.67],[412.5,.03,.11,.17,.27,.41,.57],[415.5,.07,.15,.21,.31,.37,.49],[418.5,.03,.09,.19,.29,.43,.59],[421.5,.06,.13,.23,.33,.47,.63],[424.5,.03,.11,.17,.27,.39,.53],[427.5,.07,.09,.21,.31,.41,.55],[430.5,.03,.15,.19,.29,.37,.47],[433.5,.06,.11,.23,.33,.43,.51],[436.5,.03,.09,.17,.27,.35,.57],[439.5,.07,.13,.21,.31,.41,.63],[442.5,.03,.11,.19,.29,.37,.53],[445.5,.06,.09,.23,.27,.33,.47],[448.5,.03,.15,.17,.31,.43,.59],[451.5,.07,.11,.21,.29,.39,.51],[454.5,.03,.09,.19,.27,.37,.55],[457.5,.06,.13,.23,.33,.41,.57],
[460.5,.03,.11,.17,.29,.43,.67],[463.5,.07,.09,.21,.31,.47,.59],[466.5,.03,.13,.19,.27,.39,.63],[469.5,.06,.15,.23,.35,.45,.57],[472.5,.03,.09,.17,.31,.41,.73],[475.5,.07,.11,.21,.29,.53,.65],[478.5,.03,.13,.19,.33,.47,.77],[481.5,.06,.09,.23,.37,.51,.67],[484.5,.03,.11,.17,.27,.43,.61],[487.5,.07,.15,.21,.31,.55,.87],[490.5,.03,.09,.19,.29,.47,.69],[493.5,.06,.13,.23,.33,.41,.59],[496.5,.03,.11,.17,.27,.37,.55],[499.5,.07,.09,.21,.31,.43,.51],[502.5,.03,.13,.19,.29,.39,.47],[505.5,.06,.11,.15,.23,.33,.41],[508.5,.03,.09,.17,.27,.37,.45],[511.5,.07,.13,.21,.31,.39,.53],[514.5,.03,.11,.19,.29,.33,.43],[517.5,.06,.09,.15,.23,.37,.47],[520.5,.03,.13,.17,.27,.31,.41],[523.5,.07,.11,.21,.29,.37,.43],[526.5,.03,.09,.19,.27,.33,.55],[529.5,.06,.13,.23,.37,.47,.63],[532.5,.03,.11,.17,.31,.53,.67],[535.5,.07,.09,.21,.29,.43,.59],[538.5,.03,.15,.19,.27,.41,.51]
];
const botLowB = [
[541.5,.06,.11,.17,.31,.43,.57],[544.5,.03,.09,.21,.27,.37,.53],[547.5,.07,.13,.19,.29,.47,.67],[550.5,.03,.11,.23,.33,.41,.55],[553.5,.06,.09,.17,.27,.35,.43],[556.5,.03,.13,.19,.29,.33,.39],[559.5,.07,.11,.21,.31,.37,.47],[562.5,.03,.09,.17,.27,.41,.51],[565.5,.06,.15,.23,.33,.43,.47],[568.5,.03,.11,.19,.29,.37,.53],[571.5,.07,.09,.21,.27,.33,.47],[574.5,.03,.13,.17,.31,.41,.51],[577.5,.06,.11,.23,.37,.55,.63],[580.5,.03,.09,.19,.29,.43,.59],[583.5,.07,.13,.21,.33,.47,.57],[586.5,.03,.11,.17,.27,.37,.63],[589.5,.06,.09,.23,.31,.41,.53],[592.5,.03,.15,.19,.29,.37,.55],[595.5,.07,.11,.21,.27,.43,.49],[598.5,.03,.09,.17,.33,.39,.57],[601.5,.06,.13,.23,.29,.47,.61],
[604.5,.03,.11,.19,.31,.41,.53],[607.5,.07,.09,.21,.27,.37,.59],[610.5,.03,.13,.17,.33,.45,.63],[613.5,.06,.11,.23,.29,.39,.55],[616.5,.03,.09,.19,.31,.47,.67],[619.5,.07,.15,.21,.27,.53,.59],[622.5,.03,.11,.17,.33,.41,.57],[625.5,.06,.09,.23,.29,.37,.47],[628.5,.03,.13,.19,.27,.43,.51],[631.5,.07,.11,.21,.31,.39,.57],[634.5,.03,.09,.17,.29,.35,.53],[637.5,.06,.13,.23,.27,.37,.43],[640.5,.03,.11,.19,.33,.41,.51],[643.5,.07,.09,.15,.27,.37,.47],[646.5,.03,.13,.21,.29,.43,.55],[649.5,.06,.11,.17,.31,.39,.53],[652.5,.03,.09,.23,.33,.47,.61],[655.5,.07,.15,.19,.27,.41,.57],[658.5,.03,.11,.21,.29,.37,.51],[661.5,.06,.09,.17,.31,.43,.55],[664.5,.03,.13,.23,.27,.39,.65],
[667.5,.07,.11,.19,.29,.41,.57],[670.5,.03,.09,.21,.33,.47,.53],[673.5,.06,.13,.17,.27,.37,.59],[676.5,.03,.11,.23,.31,.43,.51],[679.5,.07,.09,.19,.29,.39,.63],[682.5,.03,.15,.21,.33,.45,.67],[685.5,.06,.11,.17,.27,.53,.59],[688.5,.03,.09,.23,.37,.47,.65],[691.5,.07,.13,.19,.31,.41,.57],[694.5,.03,.11,.21,.29,.43,.63],[697.5,.06,.09,.17,.33,.47,.53],[700.5,.03,.15,.23,.27,.39,.57],[703.5,.07,.11,.19,.31,.43,.67],[706.5,.03,.09,.21,.29,.37,.59],[709.5,.06,.13,.17,.27,.41,.51],[712.5,.03,.11,.23,.33,.43,.47],[715.5,.07,.09,.15,.27,.37,.49],[718.5,.03,.13,.19,.31,.33,.41],[721.5,.06,.11,.21,.29,.43,.53],[724.5,.03,.09,.17,.27,.39,.47],
[727.5,.05,.11,.17,.23,.33,.41],[730.5,.03,.09,.15,.21,.29,.37],[733.5,.07,.13,.19,.27,.31,.43],[736.5,.03,.09,.17,.23,.29,.33],[739.5,.05,.11,.15,.21,.27,.31],[742.5,.03,.07,.13,.19,.25,.29],[745.5,.05,.09,.17,.23,.27,.37],[748.5,.03,.11,.15,.21,.29,.39],[751.5,.07,.13,.19,.25,.33,.43],[754.5,.03,.09,.17,.23,.31,.37],[757.5,.05,.11,.15,.27,.39,.53],[760.5,.03,.07,.19,.29,.41,.51],[763.5,.05,.13,.21,.33,.43,.59],[766.5,.03,.09,.15,.23,.37,.47],[769.5,.07,.11,.19,.29,.33,.43],[772.5,.03,.13,.17,.25,.37,.45],[775.5,.05,.09,.21,.27,.35,.51],[778.5,.03,.11,.15,.23,.33,.39],[781.5,.07,.13,.19,.27,.37,.53],[784.5,.03,.09,.17,.29,.41,.47],[787.5,.05,.11,.21,.27,.33,.43],[790.5,.03,.07,.15,.23,.39,.51],[793.5,.05,.13,.19,.29,.37,.45],[796.5,.03,.09,.17,.27,.41,.53],[799.5,.07,.11,.21,.31,.43,.57],[802.5,.03,.13,.15,.25,.37,.47],[805.5,.05,.09,.19,.29,.35,.43],[808.5,.03,.11,.17,.23,.31,.39],[811.5,.07,.13,.21,.27,.33,.47],[814.5,.03,.09,.15,.25,.37,.41],[817.5,.05,.11,.19,.29,.43,.51],[820.5,.03,.07,.17,.23,.33,.45]
];
const botLowC = [
[823.5,.05,.11,.19,.27,.37,.43],[826.5,.03,.09,.15,.23,.33,.47],[829.5,.07,.13,.21,.31,.43,.67],[832.5,.03,.11,.17,.29,.37,.55],[835.5,.06,.09,.23,.35,.53,.63],[838.5,.03,.13,.19,.33,.41,.73],[841.5,.07,.11,.21,.27,.47,.57],[844.5,.03,.09,.17,.31,.43,.65],[847.5,.06,.13,.23,.29,.37,.51],[850.5,.03,.11,.19,.27,.41,.47],[853.5,.07,.09,.15,.33,.39,.57],[856.5,.03,.13,.21,.29,.37,.53],[859.5,.06,.11,.17,.27,.43,.63],[862.5,.03,.09,.23,.31,.39,.59],[865.5,.07,.13,.19,.33,.47,.57],[868.5,.03,.11,.21,.29,.41,.67],[871.5,.06,.09,.17,.27,.37,.63],[874.5,.03,.15,.23,.33,.45,.53],[877.5,.07,.11,.19,.31,.43,.59],[880.5,.03,.09,.21,.27,.39,.51],[883.5,.06,.13,.17,.29,.37,.47],[886.5,.03,.11,.23,.33,.41,.57],[889.5,.07,.09,.19,.27,.47,.67],[892.5,.03,.13,.21,.31,.43,.53],[895.5,.06,.11,.17,.29,.37,.59],
[898.5,.03,.09,.23,.33,.45,.65],[901.5,.07,.13,.19,.27,.41,.57],[904.5,.03,.11,.21,.31,.47,.63],[907.5,.06,.09,.17,.29,.39,.53],[910.5,.03,.15,.23,.33,.43,.59],[913.5,.07,.11,.19,.27,.37,.67],[916.5,.03,.09,.21,.31,.47,.57],[919.5,.06,.13,.17,.29,.41,.63],[922.5,.03,.11,.23,.33,.43,.51],[925.5,.07,.09,.19,.27,.39,.59],[928.5,.03,.13,.21,.31,.37,.47],[931.5,.06,.11,.17,.29,.45,.53],[934.5,.03,.09,.23,.33,.41,.57],[937.5,.07,.15,.19,.27,.37,.49],[940.5,.03,.11,.21,.31,.47,.63],[943.5,.06,.09,.17,.29,.43,.57],[946.5,.03,.13,.23,.33,.39,.53],[949.5,.07,.11,.19,.27,.47,.59],[952.5,.03,.09,.21,.31,.41,.51],[955.5,.06,.13,.17,.29,.37,.57],[958.5,.03,.11,.23,.33,.43,.47],[961.5,.07,.09,.19,.27,.39,.53],[964.5,.03,.15,.21,.31,.41,.63],
[967.5,.06,.11,.17,.29,.43,.59],[970.5,.03,.09,.23,.33,.53,.67],[973.5,.07,.13,.19,.27,.47,.57],[976.5,.03,.11,.21,.37,.53,.63],[979.5,.06,.09,.17,.29,.41,.59],[982.5,.03,.13,.23,.33,.43,.51],[985.5,.07,.11,.19,.27,.37,.47],[988.5,.03,.09,.21,.31,.41,.57],[991.5,.06,.15,.17,.29,.47,.63],[994.5,.03,.11,.23,.33,.53,.73],[997.5,.07,.09,.19,.37,.57,.67],[1000.5,.03,.13,.21,.31,.43,.77],[1003.5,.06,.11,.17,.29,.53,.63],[1006.5,.03,.09,.23,.33,.47,.57],[1009.5,.07,.13,.19,.37,.59,.73],[1012.5,.03,.11,.21,.29,.43,.67],
[1015.5,.06,.09,.17,.33,.53,.77],[1018.5,.03,.13,.23,.37,.57,.63],[1021.5,.07,.11,.19,.29,.47,.67],[1024.5,.03,.09,.21,.33,.59,.73],[1027.5,.06,.15,.17,.37,.53,.77],[1030.5,.03,.11,.23,.41,.57,.87],[1033.5,.07,.09,.19,.33,.47,.73],[1036.5,.03,.13,.21,.37,.43,.67],[1039.5,.06,.11,.17,.29,.53,.59],[1042.5,.03,.09,.23,.33,.41,.47],[1045.5,.07,.13,.19,.27,.37,.43],[1048.5,.03,.11,.21,.31,.39,.47],[1051.5,.06,.09,.17,.29,.41,.53],[1054.5,.03,.15,.23,.33,.43,.47],[1057.5,.07,.11,.19,.27,.37,.57],[1060.5,.03,.09,.21,.31,.41,.63],[1063.5,.06,.13,.17,.29,.43,.67],[1066.5,.03,.11,.23,.33,.47,.57],[1069.5,.07,.09,.19,.31,.43,.53],[1072.5,.03,.13,.21,.29,.37,.47]
];

const axisFont = 'Liberation Sans, Arial, sans-serif';
const textColor = '#222';

const topColumns = [top1p, top1q, top2p, top4q21, top4q31, top8q, top9p, top11p, top11q, top13q21, top13q32, topLowA, topLowB, topLowC];
const bottomColumns = [bot1p, bot1q, bot2p, bot4q21, bot4q31, bot8q, bot9p, bot11p, bot11q, bot13q21, bot13q32, botLowA, botLowB, botLowC];

function toPoints(groups) {
    const pts = [];
    groups.forEach(rows => rows.forEach(r => {
        r.slice(1).forEach(v => pts.push({ x: r[0], y: v }));
    }));
    return pts;
}

// vertical segments separated by gaps so one dataset can hold them all
function segments(xs, from, to) {
    const pts = [];
    xs.forEach(x => pts.push({ x, y: from }, { x, y: to }, { x, y: null }));
    return pts;
}

function manhattan(id, s) {
    const canvas = document.getElementById(id);
    canvas.style.width = s.width + 'px';
    canvas.style.height = s.height + 'px';
    canvas.width = s.width;
    canvas.height = s.height;

    const locusLabels = {
        id: 'locusLabels',
        afterDraw(chart) {
            const { ctx, chartArea: a, scales } = chart;
            ctx.save();
            ctx.strokeStyle = '#d6d6d6';
            ctx.lineWidth = s.frame;
            ctx.strokeRect(a.left, a.top, a.right - a.left, a.bottom - a.top);
            ctx.fillStyle = textColor;
            ctx.font = s.labelSize + 'px ' + axisFont;
            ctx.textAlign = 'center';
            ctx.textBaseline = 'middle';
            lociNames.forEach((name, i) => {
                ctx.fillText(name, scales.x.getPixelForValue(s.labelAt[i]), scales.y.getPixelForValue(s.labelY));
            });
            ctx.restore();
        }
    };

    new Chart(canvas, {
        type: 'scatter',
        data: {
            datasets: [
                {
                    data: toPoints(s.columns),
                    backgroundColor: '#000',
                    borderWidth: 0,
                    pointRadius: s.dot,
                    pointHoverRadius: s.dot
                },
                {
                    type: 'line',
                    data: [{ x: s.baseline[0], y: 0 }, { x: s.baseline[1], y: 0 }],
                    borderColor: '#000',
                    borderWidth: s.baseWidth,
                    pointRadius: 0
                },
                {
                    type: 'line',
                    data: segments(s.genes, 0, geneTop),
                    borderColor: '#8e8e8e',
                    borderWidth: 1,
                    pointRadius: 0,
                    spanGaps: false
                },
                {
                    type: 'line',
                    data: segments(s.bounds, s.yMin, s.yMax),
                    borderColor: '#c9c9c9',
                    borderWidth: 1,
                    borderDash: s.boundDash,
                    pointRadius: 0,
                    spanGaps: false
                }
            ]
        },
        options: {
            responsive: false,
            animation: false,
            layout: { padding: s.padding },
            plugins: { legend: { display: false }, tooltip: { enabled: false } },
            scales: {
                x: {
                    type: 'linear',
                    min: s.xMin,
                    max: s.xMax,
                    grid: { display: false },
                    border: { display: false },
                    ticks: { display: false },
                    title: {
                        display: true,
                        text: 'Chromosomes',
                        color: textColor,
                        font: { family: axisFont, size: s.titleSize },
                        padding: s.xTitlePad
                    },
                    afterFit: sc => { sc.height = s.xAxisHeight; }
                },
                y: {
                    min: s.yMin,
                    max: s.yMax,
                    grid: {
                        color: c => dashedLevels.includes(Math.round(c.tick.value * 10) / 10) ? '#dcdcdc' : 'transparent',
                        lineWidth: s.gridWidth,
                        tickColor: '#b5b5b5',
                        tickWidth: 1,
                        tickLength: 2
                    },
                    border: { display: false, dash: s.gridDash },
                    ticks: {
                        stepSize: 0.1,
                        autoSkip: false,
                        includeBounds: false,
                        maxRotation: 0,
                        padding: s.tickPad,
                        color: textColor,
                        font: { family: axisFont, size: s.tickSize },
                        callback: v => {
                            const r = Math.round(v * 10) / 10;
                            return yTickLevels.includes(r) ? String(r) : '';
                        }
                    },
                    title: {
                        display: true,
                        text: '\u2212log10(p)',
                        color: textColor,
                        font: { family: axisFont, size: s.titleSize },
                        padding: s.yTitlePad
                    },
                    afterFit: sc => {
                        sc.width = s.yAxisWidth;
                        sc.paddingTop = 0;
                        sc.paddingBottom = 0;
                    }
                }
            }
        },
        plugins: [locusLabels]
    });
}

manhattan('topChart', {
    width: 1337, height: 395,
    columns: topColumns, genes: topGenes, bounds: topBounds, labelAt: topLabelAt, baseline: topBaseline,
    xMin: 92, xMax: 1331, yMin: -0.11, yMax: 6.13, labelY: 5.62,
    padding: { left: 0, right: 6, top: 10, bottom: 0 },
    yAxisWidth: 92, xAxisHeight: 48,
    dot: 1.25, baseWidth: 2.5, frame: 1.2, gridWidth: 1.3,
    gridDash: [16, 14], boundDash: [5, 4],
    tickSize: 20, tickPad: 5, titleSize: 24, labelSize: 10.5,
    xTitlePad: 3, yTitlePad: 10
});

manhattan('bottomChart', {
    width: 1337, height: 244,
    columns: bottomColumns, genes: bottomGenes, bounds: bottomBounds, labelAt: bottomLabelAt, baseline: bottomBaseline,
    xMin: 313, xMax: 1077, yMin: -0.12, yMax: 6.12, labelY: 5.6,
    padding: { left: 250, right: 260, top: 9, bottom: 0 },
    yAxisWidth: 63, xAxisHeight: 27,
    dot: 0.85, baseWidth: 2, frame: 1, gridWidth: 1,
    gridDash: [11, 9], boundDash: [3, 3],
    tickSize: 13, tickPad: 2, titleSize: 15, labelSize: 6.8,
    xTitlePad: 1, yTitlePad: 12
});
</script>
</body>
</html>
